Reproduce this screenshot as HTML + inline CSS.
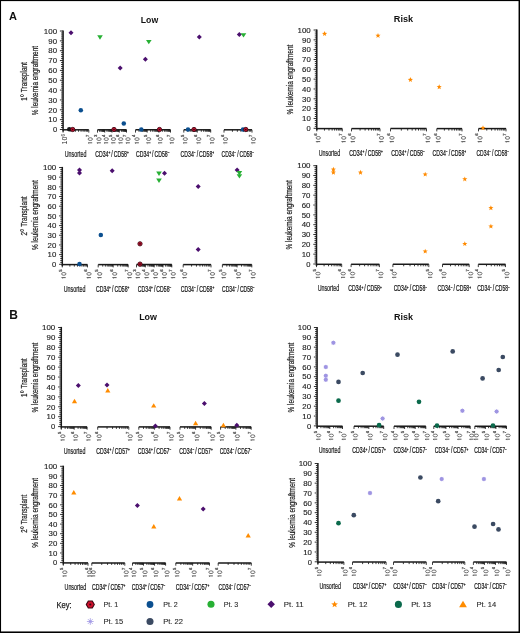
<!DOCTYPE html>
<html><head><meta charset="utf-8"><style>
html,body{margin:0;padding:0;background:#fff;}
body{width:520px;height:633px;overflow:hidden;font-family:"Liberation Sans", sans-serif;}
svg{display:block;will-change:transform;}
</style></head><body>
<svg width="520" height="633" viewBox="0 0 520 633" font-family='"Liberation Sans", sans-serif'>
<rect x="0" y="0" width="520" height="633" fill="#fff"/>
<text x="8.9" y="20.1" font-size="11" text-anchor="start" font-weight="bold" fill="#111">A</text>
<text x="9.2" y="318.8" font-size="12" text-anchor="start" font-weight="bold" fill="#111">B</text>
<text x="149.5" y="22.8" font-size="9.3" text-anchor="middle" font-weight="bold" fill="#111" textLength="17.4" lengthAdjust="spacingAndGlyphs">Low</text>
<text x="403.5" y="22.1" font-size="9.3" text-anchor="middle" font-weight="bold" fill="#111" textLength="19.3" lengthAdjust="spacingAndGlyphs">Risk</text>
<text x="148.1" y="320.4" font-size="9.3" text-anchor="middle" font-weight="bold" fill="#111" textLength="17.8" lengthAdjust="spacingAndGlyphs">Low</text>
<text x="403.6" y="320.3" font-size="9.3" text-anchor="middle" font-weight="bold" fill="#111" textLength="19.1" lengthAdjust="spacingAndGlyphs">Risk</text>
<text x="27" y="81.45" font-size="8.7" text-anchor="middle" font-weight="normal" fill="#1e1e1e" textLength="38.6" lengthAdjust="spacingAndGlyphs" transform="rotate(-90 27 81.45)" stroke="#1e1e1e" stroke-width="0.22">1<tspan font-size="11.5" dy="0.9">°</tspan><tspan dy="-0.9"> Transplant</tspan></text>
<text x="38.2" y="80.55" font-size="8.7" text-anchor="middle" font-weight="normal" fill="#1e1e1e" textLength="69.2" lengthAdjust="spacingAndGlyphs" transform="rotate(-90 38.2 80.55)" stroke="#1e1e1e" stroke-width="0.22">% leukemia engraftment</text>
<text x="293" y="79.6" font-size="8.7" text-anchor="middle" font-weight="normal" fill="#1e1e1e" textLength="70" lengthAdjust="spacingAndGlyphs" transform="rotate(-90 293 79.6)" stroke="#1e1e1e" stroke-width="0.22">% leukemia engraftment</text>
<text x="27" y="216" font-size="8.7" text-anchor="middle" font-weight="normal" fill="#1e1e1e" textLength="39.2" lengthAdjust="spacingAndGlyphs" transform="rotate(-90 27 216)" stroke="#1e1e1e" stroke-width="0.22">2<tspan font-size="11.5" dy="0.9">°</tspan><tspan dy="-0.9"> Transplant</tspan></text>
<text x="38.2" y="215.15" font-size="8.7" text-anchor="middle" font-weight="normal" fill="#1e1e1e" textLength="69.8" lengthAdjust="spacingAndGlyphs" transform="rotate(-90 38.2 215.15)" stroke="#1e1e1e" stroke-width="0.22">% leukemia engraftment</text>
<text x="292.2" y="214.9" font-size="8.7" text-anchor="middle" font-weight="normal" fill="#1e1e1e" textLength="69.2" lengthAdjust="spacingAndGlyphs" transform="rotate(-90 292.2 214.9)" stroke="#1e1e1e" stroke-width="0.22">% leukemia engraftment</text>
<text x="27" y="377.75" font-size="8.7" text-anchor="middle" font-weight="normal" fill="#1e1e1e" textLength="38.6" lengthAdjust="spacingAndGlyphs" transform="rotate(-90 27 377.75)" stroke="#1e1e1e" stroke-width="0.22">1<tspan font-size="11.5" dy="0.9">°</tspan><tspan dy="-0.9"> Transplant</tspan></text>
<text x="38.2" y="377.55" font-size="8.7" text-anchor="middle" font-weight="normal" fill="#1e1e1e" textLength="69.8" lengthAdjust="spacingAndGlyphs" transform="rotate(-90 38.2 377.55)" stroke="#1e1e1e" stroke-width="0.22">% leukemia engraftment</text>
<text x="293.6" y="377.55" font-size="8.7" text-anchor="middle" font-weight="normal" fill="#1e1e1e" textLength="69.8" lengthAdjust="spacingAndGlyphs" transform="rotate(-90 293.6 377.55)" stroke="#1e1e1e" stroke-width="0.22">% leukemia engraftment</text>
<text x="27" y="513.85" font-size="8.7" text-anchor="middle" font-weight="normal" fill="#1e1e1e" textLength="38" lengthAdjust="spacingAndGlyphs" transform="rotate(-90 27 513.85)" stroke="#1e1e1e" stroke-width="0.22">2<tspan font-size="11.5" dy="0.9">°</tspan><tspan dy="-0.9"> Transplant</tspan></text>
<text x="38.2" y="512.95" font-size="8.7" text-anchor="middle" font-weight="normal" fill="#1e1e1e" textLength="69.8" lengthAdjust="spacingAndGlyphs" transform="rotate(-90 38.2 512.95)" stroke="#1e1e1e" stroke-width="0.22">% leukemia engraftment</text>
<text x="294.6" y="512.95" font-size="8.7" text-anchor="middle" font-weight="normal" fill="#1e1e1e" textLength="69.8" lengthAdjust="spacingAndGlyphs" transform="rotate(-90 294.6 512.95)" stroke="#1e1e1e" stroke-width="0.22">% leukemia engraftment</text>
<line x1="63.1" y1="30.4" x2="63.1" y2="131.5" stroke="#1a1a1a" stroke-width="1.5"/>
<path d="M59.9 129.5H63.1M61.1 127.53H63.1M61.1 125.56H63.1M61.1 123.59H63.1M61.1 121.62H63.1M59.9 119.65H63.1M61.1 117.68H63.1M61.1 115.71H63.1M61.1 113.74H63.1M61.1 111.77H63.1M59.9 109.8H63.1M61.1 107.83H63.1M61.1 105.86H63.1M61.1 103.89H63.1M61.1 101.92H63.1M59.9 99.95H63.1M61.1 97.98H63.1M61.1 96.01H63.1M61.1 94.04H63.1M61.1 92.07H63.1M59.9 90.1H63.1M61.1 88.13H63.1M61.1 86.16H63.1M61.1 84.19H63.1M61.1 82.22H63.1M59.9 80.25H63.1M61.1 78.28H63.1M61.1 76.31H63.1M61.1 74.34H63.1M61.1 72.37H63.1M59.9 70.4H63.1M61.1 68.43H63.1M61.1 66.46H63.1M61.1 64.49H63.1M61.1 62.52H63.1M59.9 60.55H63.1M61.1 58.58H63.1M61.1 56.61H63.1M61.1 54.64H63.1M61.1 52.67H63.1M59.9 50.7H63.1M61.1 48.73H63.1M61.1 46.76H63.1M61.1 44.79H63.1M61.1 42.82H63.1M59.9 40.85H63.1M61.1 38.88H63.1M61.1 36.91H63.1M61.1 34.94H63.1M61.1 32.97H63.1M59.9 31H63.1" stroke="#1a1a1a" stroke-width="0.9" fill="none"/>
<text x="57.1" y="132.25" font-size="7.8" text-anchor="end" font-weight="normal" fill="#1e1e1e" textLength="4.21" lengthAdjust="spacingAndGlyphs" stroke="#1e1e1e" stroke-width="0.14">0</text>
<text x="57.1" y="122.4" font-size="7.8" text-anchor="end" font-weight="normal" fill="#1e1e1e" textLength="8.73" lengthAdjust="spacingAndGlyphs" stroke="#1e1e1e" stroke-width="0.14">10</text>
<text x="57.1" y="112.55" font-size="7.8" text-anchor="end" font-weight="normal" fill="#1e1e1e" textLength="8.73" lengthAdjust="spacingAndGlyphs" stroke="#1e1e1e" stroke-width="0.14">20</text>
<text x="57.1" y="102.7" font-size="7.8" text-anchor="end" font-weight="normal" fill="#1e1e1e" textLength="8.73" lengthAdjust="spacingAndGlyphs" stroke="#1e1e1e" stroke-width="0.14">30</text>
<text x="57.1" y="92.85" font-size="7.8" text-anchor="end" font-weight="normal" fill="#1e1e1e" textLength="8.73" lengthAdjust="spacingAndGlyphs" stroke="#1e1e1e" stroke-width="0.14">40</text>
<text x="57.1" y="83" font-size="7.8" text-anchor="end" font-weight="normal" fill="#1e1e1e" textLength="8.73" lengthAdjust="spacingAndGlyphs" stroke="#1e1e1e" stroke-width="0.14">50</text>
<text x="57.1" y="73.15" font-size="7.8" text-anchor="end" font-weight="normal" fill="#1e1e1e" textLength="8.73" lengthAdjust="spacingAndGlyphs" stroke="#1e1e1e" stroke-width="0.14">60</text>
<text x="57.1" y="63.3" font-size="7.8" text-anchor="end" font-weight="normal" fill="#1e1e1e" textLength="8.73" lengthAdjust="spacingAndGlyphs" stroke="#1e1e1e" stroke-width="0.14">70</text>
<text x="57.1" y="53.45" font-size="7.8" text-anchor="end" font-weight="normal" fill="#1e1e1e" textLength="8.73" lengthAdjust="spacingAndGlyphs" stroke="#1e1e1e" stroke-width="0.14">80</text>
<text x="57.1" y="43.6" font-size="7.8" text-anchor="end" font-weight="normal" fill="#1e1e1e" textLength="8.73" lengthAdjust="spacingAndGlyphs" stroke="#1e1e1e" stroke-width="0.14">90</text>
<text x="57.1" y="33.75" font-size="7.8" text-anchor="end" font-weight="normal" fill="#1e1e1e" textLength="13.24" lengthAdjust="spacingAndGlyphs" stroke="#1e1e1e" stroke-width="0.14">100</text>
<line x1="63.1" y1="129.8" x2="88.8" y2="129.8" stroke="#1a1a1a" stroke-width="1.5"/>
<path d="M63.1 129.8V132.6M88.8 129.8V132.6M70.84 129.8V131.8M75.36 129.8V131.8M78.57 129.8V131.8M81.06 129.8V131.8M83.1 129.8V131.8M84.82 129.8V131.8M86.31 129.8V131.8M87.62 129.8V131.8" stroke="#1a1a1a" stroke-width="0.85" fill="none"/>
<text x="67.3" y="144.4" font-size="7.2" fill="#262626" transform="rotate(-90 67.3 144.4)" textLength="10.2" lengthAdjust="spacingAndGlyphs">10<tspan font-size="4.46" dy="-2.59">6</tspan></text>
<ellipse cx="90.3" cy="139.1" rx="2.2" ry="1.38" fill="none" stroke="#474747" stroke-width="0.75"/><path d="M88.2 142.8H92.2" stroke="#474747" stroke-width="0.9"/><path d="M88.2 142.8l0.9 0.9" stroke="#474747" stroke-width="0.7"/><text x="88.6" y="136.9" font-size="4.2" fill="#474747" stroke="#474747" stroke-width="0.25" transform="rotate(-90 88.6 136.9)">7</text>
<line x1="97.5" y1="129.8" x2="126.5" y2="129.8" stroke="#1a1a1a" stroke-width="1.5"/>
<path d="M97.5 129.8V132.6M104.75 129.8V132.6M112 129.8V132.6M119.25 129.8V132.6M126.5 129.8V132.6M99.68 129.8V131.8M100.96 129.8V131.8M101.86 129.8V131.8M102.57 129.8V131.8M103.14 129.8V131.8M103.63 129.8V131.8M104.05 129.8V131.8M104.42 129.8V131.8M106.93 129.8V131.8M108.21 129.8V131.8M109.11 129.8V131.8M109.82 129.8V131.8M110.39 129.8V131.8M110.88 129.8V131.8M111.3 129.8V131.8M111.67 129.8V131.8M114.18 129.8V131.8M115.46 129.8V131.8M116.36 129.8V131.8M117.07 129.8V131.8M117.64 129.8V131.8M118.13 129.8V131.8M118.55 129.8V131.8M118.92 129.8V131.8M121.43 129.8V131.8M122.71 129.8V131.8M123.61 129.8V131.8M124.32 129.8V131.8M124.89 129.8V131.8M125.38 129.8V131.8M125.8 129.8V131.8M126.17 129.8V131.8" stroke="#1a1a1a" stroke-width="0.85" fill="none"/>
<ellipse cx="99" cy="139.1" rx="2.2" ry="1.38" fill="none" stroke="#474747" stroke-width="0.75"/><path d="M96.9 142.8H100.9" stroke="#474747" stroke-width="0.9"/><path d="M96.9 142.8l0.9 0.9" stroke="#474747" stroke-width="0.7"/><text x="97.3" y="136.9" font-size="4.2" fill="#474747" stroke="#474747" stroke-width="0.25" transform="rotate(-90 97.3 136.9)">3</text>
<ellipse cx="106.25" cy="139.1" rx="2.2" ry="1.38" fill="none" stroke="#474747" stroke-width="0.75"/><path d="M104.15 142.8H108.15" stroke="#474747" stroke-width="0.9"/><path d="M104.15 142.8l0.9 0.9" stroke="#474747" stroke-width="0.7"/><text x="104.55" y="136.9" font-size="4.2" fill="#474747" stroke="#474747" stroke-width="0.25" transform="rotate(-90 104.55 136.9)">4</text>
<ellipse cx="113.5" cy="139.1" rx="2.2" ry="1.38" fill="none" stroke="#474747" stroke-width="0.75"/><path d="M111.4 142.8H115.4" stroke="#474747" stroke-width="0.9"/><path d="M111.4 142.8l0.9 0.9" stroke="#474747" stroke-width="0.7"/><text x="111.8" y="136.9" font-size="4.2" fill="#474747" stroke="#474747" stroke-width="0.25" transform="rotate(-90 111.8 136.9)">5</text>
<ellipse cx="120.75" cy="139.1" rx="2.2" ry="1.38" fill="none" stroke="#474747" stroke-width="0.75"/><path d="M118.65 142.8H122.65" stroke="#474747" stroke-width="0.9"/><path d="M118.65 142.8l0.9 0.9" stroke="#474747" stroke-width="0.7"/><text x="119.05" y="136.9" font-size="4.2" fill="#474747" stroke="#474747" stroke-width="0.25" transform="rotate(-90 119.05 136.9)">6</text>
<ellipse cx="128" cy="139.1" rx="2.2" ry="1.38" fill="none" stroke="#474747" stroke-width="0.75"/><path d="M125.9 142.8H129.9" stroke="#474747" stroke-width="0.9"/><path d="M125.9 142.8l0.9 0.9" stroke="#474747" stroke-width="0.7"/><text x="126.3" y="136.9" font-size="4.2" fill="#474747" stroke="#474747" stroke-width="0.25" transform="rotate(-90 126.3 136.9)">7</text>
<line x1="135.5" y1="129.8" x2="170.5" y2="129.8" stroke="#1a1a1a" stroke-width="1.5"/>
<path d="M135.5 129.8V132.6M147.17 129.8V132.6M158.83 129.8V132.6M170.5 129.8V132.6M139.01 129.8V131.8M141.07 129.8V131.8M142.52 129.8V131.8M143.65 129.8V131.8M144.58 129.8V131.8M145.36 129.8V131.8M146.04 129.8V131.8M146.63 129.8V131.8M150.68 129.8V131.8M152.73 129.8V131.8M154.19 129.8V131.8M155.32 129.8V131.8M156.25 129.8V131.8M157.03 129.8V131.8M157.7 129.8V131.8M158.3 129.8V131.8M162.35 129.8V131.8M164.4 129.8V131.8M165.86 129.8V131.8M166.99 129.8V131.8M167.91 129.8V131.8M168.69 129.8V131.8M169.37 129.8V131.8M169.97 129.8V131.8" stroke="#1a1a1a" stroke-width="0.85" fill="none"/>
<ellipse cx="137" cy="139.1" rx="2.2" ry="1.38" fill="none" stroke="#474747" stroke-width="0.75"/><path d="M134.9 142.8H138.9" stroke="#474747" stroke-width="0.9"/><path d="M134.9 142.8l0.9 0.9" stroke="#474747" stroke-width="0.7"/><text x="135.3" y="136.9" font-size="4.2" fill="#474747" stroke="#474747" stroke-width="0.25" transform="rotate(-90 135.3 136.9)">4</text>
<ellipse cx="148.67" cy="139.1" rx="2.2" ry="1.38" fill="none" stroke="#474747" stroke-width="0.75"/><path d="M146.57 142.8H150.57" stroke="#474747" stroke-width="0.9"/><path d="M146.57 142.8l0.9 0.9" stroke="#474747" stroke-width="0.7"/><text x="146.97" y="136.9" font-size="4.2" fill="#474747" stroke="#474747" stroke-width="0.25" transform="rotate(-90 146.97 136.9)">5</text>
<ellipse cx="160.33" cy="139.1" rx="2.2" ry="1.38" fill="none" stroke="#474747" stroke-width="0.75"/><path d="M158.23 142.8H162.23" stroke="#474747" stroke-width="0.9"/><path d="M158.23 142.8l0.9 0.9" stroke="#474747" stroke-width="0.7"/><text x="158.63" y="136.9" font-size="4.2" fill="#474747" stroke="#474747" stroke-width="0.25" transform="rotate(-90 158.63 136.9)">6</text>
<ellipse cx="172" cy="139.1" rx="2.2" ry="1.38" fill="none" stroke="#474747" stroke-width="0.75"/><path d="M169.9 142.8H173.9" stroke="#474747" stroke-width="0.9"/><path d="M169.9 142.8l0.9 0.9" stroke="#474747" stroke-width="0.7"/><text x="170.3" y="136.9" font-size="4.2" fill="#474747" stroke="#474747" stroke-width="0.25" transform="rotate(-90 170.3 136.9)">7</text>
<line x1="183.8" y1="129.8" x2="210.7" y2="129.8" stroke="#1a1a1a" stroke-width="1.5"/>
<path d="M183.8 129.8V132.6M197.25 129.8V132.6M210.7 129.8V132.6M187.85 129.8V131.8M190.22 129.8V131.8M191.9 129.8V131.8M193.2 129.8V131.8M194.27 129.8V131.8M195.17 129.8V131.8M195.95 129.8V131.8M196.63 129.8V131.8M201.3 129.8V131.8M203.67 129.8V131.8M205.35 129.8V131.8M206.65 129.8V131.8M207.72 129.8V131.8M208.62 129.8V131.8M209.4 129.8V131.8M210.08 129.8V131.8" stroke="#1a1a1a" stroke-width="0.85" fill="none"/>
<ellipse cx="185.3" cy="139.1" rx="2.2" ry="1.38" fill="none" stroke="#474747" stroke-width="0.75"/><path d="M183.2 142.8H187.2" stroke="#474747" stroke-width="0.9"/><path d="M183.2 142.8l0.9 0.9" stroke="#474747" stroke-width="0.7"/><text x="183.6" y="136.9" font-size="4.2" fill="#474747" stroke="#474747" stroke-width="0.25" transform="rotate(-90 183.6 136.9)">5</text>
<ellipse cx="198.75" cy="139.1" rx="2.2" ry="1.38" fill="none" stroke="#474747" stroke-width="0.75"/><path d="M196.65 142.8H200.65" stroke="#474747" stroke-width="0.9"/><path d="M196.65 142.8l0.9 0.9" stroke="#474747" stroke-width="0.7"/><text x="197.05" y="136.9" font-size="4.2" fill="#474747" stroke="#474747" stroke-width="0.25" transform="rotate(-90 197.05 136.9)">6</text>
<ellipse cx="212.2" cy="139.1" rx="2.2" ry="1.38" fill="none" stroke="#474747" stroke-width="0.75"/><path d="M210.1 142.8H214.1" stroke="#474747" stroke-width="0.9"/><path d="M210.1 142.8l0.9 0.9" stroke="#474747" stroke-width="0.7"/><text x="210.5" y="136.9" font-size="4.2" fill="#474747" stroke="#474747" stroke-width="0.25" transform="rotate(-90 210.5 136.9)">7</text>
<line x1="224" y1="129.8" x2="252" y2="129.8" stroke="#1a1a1a" stroke-width="1.5"/>
<path d="M224 129.8V132.6M252 129.8V132.6M232.43 129.8V131.8M237.36 129.8V131.8M240.86 129.8V131.8M243.57 129.8V131.8M245.79 129.8V131.8M247.66 129.8V131.8M249.29 129.8V131.8M250.72 129.8V131.8" stroke="#1a1a1a" stroke-width="0.85" fill="none"/>
<ellipse cx="225.5" cy="139.1" rx="2.2" ry="1.38" fill="none" stroke="#474747" stroke-width="0.75"/><path d="M223.4 142.8H227.4" stroke="#474747" stroke-width="0.9"/><path d="M223.4 142.8l0.9 0.9" stroke="#474747" stroke-width="0.7"/><text x="223.8" y="136.9" font-size="4.2" fill="#474747" stroke="#474747" stroke-width="0.25" transform="rotate(-90 223.8 136.9)">6</text>
<ellipse cx="253.5" cy="139.1" rx="2.2" ry="1.38" fill="none" stroke="#474747" stroke-width="0.75"/><path d="M251.4 142.8H255.4" stroke="#474747" stroke-width="0.9"/><path d="M251.4 142.8l0.9 0.9" stroke="#474747" stroke-width="0.7"/><text x="251.8" y="136.9" font-size="4.2" fill="#474747" stroke="#474747" stroke-width="0.25" transform="rotate(-90 251.8 136.9)">7</text>
<text x="75.55" y="156.55" font-size="8.2" text-anchor="middle" font-weight="normal" fill="#1a1a1a" textLength="21.6" lengthAdjust="spacingAndGlyphs" stroke="#1a1a1a" stroke-width="0.2">Unsorted</text>
<text x="112" y="156.55" font-size="8.2" text-anchor="middle" font-weight="normal" fill="#1a1a1a" textLength="33.5" lengthAdjust="spacingAndGlyphs" stroke="#1a1a1a" stroke-width="0.24">CD34<tspan font-size="5.0" dy="-2.9">+</tspan><tspan dy="2.9"> / CD58</tspan><tspan font-size="5.0" dy="-2.9">+</tspan></text>
<text x="152.75" y="156.55" font-size="8.2" text-anchor="middle" font-weight="normal" fill="#1a1a1a" textLength="33.5" lengthAdjust="spacingAndGlyphs" stroke="#1a1a1a" stroke-width="0.24">CD34<tspan font-size="5.0" dy="-2.9">+</tspan><tspan dy="2.9"> / CD58</tspan><tspan font-size="5.0" dy="-2.9">−</tspan></text>
<text x="197.35" y="156.55" font-size="8.2" text-anchor="middle" font-weight="normal" fill="#1a1a1a" textLength="33.5" lengthAdjust="spacingAndGlyphs" stroke="#1a1a1a" stroke-width="0.24">CD34<tspan font-size="5.0" dy="-2.9">−</tspan><tspan dy="2.9"> / CD58</tspan><tspan font-size="5.0" dy="-2.9">+</tspan></text>
<text x="237.85" y="156.55" font-size="8.2" text-anchor="middle" font-weight="normal" fill="#1a1a1a" textLength="32.5" lengthAdjust="spacingAndGlyphs" stroke="#1a1a1a" stroke-width="0.24">CD34<tspan font-size="5.0" dy="-2.9">−</tspan><tspan dy="2.9"> / CD58</tspan><tspan font-size="5.0" dy="-2.9">−</tspan></text>
<circle cx="69.3" cy="129.3" r="2.3" fill="#151515"/>
<path d="M71 30.2L73.5 32.7L71 35.2L68.5 32.7Z" fill="#4b0f6e"/>
<path d="M120.2 65.4L122.7 67.9L120.2 70.4L117.7 67.9Z" fill="#4b0f6e"/>
<path d="M145.4 56.7L147.9 59.2L145.4 61.7L142.9 59.2Z" fill="#4b0f6e"/>
<path d="M199.3 34.5L201.8 37L199.3 39.5L196.8 37Z" fill="#4b0f6e"/>
<path d="M239.3 32L241.8 34.5L239.3 37L236.8 34.5Z" fill="#4b0f6e"/>
<path d="M97.2 35.32L102.8 35.32L100 39.72Z" fill="#27b034"/>
<path d="M146 39.92L151.6 39.92L148.8 44.32Z" fill="#27b034"/>
<path d="M240.7 33.22L246.3 33.22L243.5 37.62Z" fill="#27b034"/>
<circle cx="80.8" cy="110.2" r="2.25" fill="#0b4f8f"/>
<circle cx="123.8" cy="123.5" r="2.25" fill="#0b4f8f"/>
<circle cx="141.3" cy="129.5" r="2.25" fill="#0b4f8f"/>
<circle cx="188" cy="129.5" r="2.25" fill="#0b4f8f"/>
<circle cx="243" cy="129.5" r="2.25" fill="#0b4f8f"/>
<circle cx="72.7" cy="129.5" r="2.15" fill="#c8102e" stroke="#3a0612" stroke-width="0.85"/><circle cx="72.7" cy="129.5" r="0.85" fill="#3a0612"/>
<circle cx="114" cy="129.5" r="2.15" fill="#c8102e" stroke="#3a0612" stroke-width="0.85"/><circle cx="114" cy="129.5" r="0.85" fill="#3a0612"/>
<circle cx="159.5" cy="129.5" r="2.15" fill="#c8102e" stroke="#3a0612" stroke-width="0.85"/><circle cx="159.5" cy="129.5" r="0.85" fill="#3a0612"/>
<circle cx="194" cy="129.5" r="2.15" fill="#c8102e" stroke="#3a0612" stroke-width="0.85"/><circle cx="194" cy="129.5" r="0.85" fill="#3a0612"/>
<circle cx="245.8" cy="129.5" r="2.15" fill="#c8102e" stroke="#3a0612" stroke-width="0.85"/><circle cx="245.8" cy="129.5" r="0.85" fill="#3a0612"/>
<line x1="316.8" y1="29.4" x2="316.8" y2="130.3" stroke="#1a1a1a" stroke-width="1.5"/>
<path d="M313.6 128.3H316.8M314.8 126.33H316.8M314.8 124.37H316.8M314.8 122.4H316.8M314.8 120.44H316.8M313.6 118.47H316.8M314.8 116.5H316.8M314.8 114.54H316.8M314.8 112.57H316.8M314.8 110.61H316.8M313.6 108.64H316.8M314.8 106.67H316.8M314.8 104.71H316.8M314.8 102.74H316.8M314.8 100.78H316.8M313.6 98.81H316.8M314.8 96.84H316.8M314.8 94.88H316.8M314.8 92.91H316.8M314.8 90.95H316.8M313.6 88.98H316.8M314.8 87.01H316.8M314.8 85.05H316.8M314.8 83.08H316.8M314.8 81.12H316.8M313.6 79.15H316.8M314.8 77.18H316.8M314.8 75.22H316.8M314.8 73.25H316.8M314.8 71.29H316.8M313.6 69.32H316.8M314.8 67.35H316.8M314.8 65.39H316.8M314.8 63.42H316.8M314.8 61.46H316.8M313.6 59.49H316.8M314.8 57.52H316.8M314.8 55.56H316.8M314.8 53.59H316.8M314.8 51.63H316.8M313.6 49.66H316.8M314.8 47.69H316.8M314.8 45.73H316.8M314.8 43.76H316.8M314.8 41.8H316.8M313.6 39.83H316.8M314.8 37.86H316.8M314.8 35.9H316.8M314.8 33.93H316.8M314.8 31.97H316.8M313.6 30H316.8" stroke="#1a1a1a" stroke-width="0.9" fill="none"/>
<text x="310.8" y="131.05" font-size="7.8" text-anchor="end" font-weight="normal" fill="#1e1e1e" textLength="4.21" lengthAdjust="spacingAndGlyphs" stroke="#1e1e1e" stroke-width="0.14">0</text>
<text x="310.8" y="121.22" font-size="7.8" text-anchor="end" font-weight="normal" fill="#1e1e1e" textLength="8.73" lengthAdjust="spacingAndGlyphs" stroke="#1e1e1e" stroke-width="0.14">10</text>
<text x="310.8" y="111.39" font-size="7.8" text-anchor="end" font-weight="normal" fill="#1e1e1e" textLength="8.73" lengthAdjust="spacingAndGlyphs" stroke="#1e1e1e" stroke-width="0.14">20</text>
<text x="310.8" y="101.56" font-size="7.8" text-anchor="end" font-weight="normal" fill="#1e1e1e" textLength="8.73" lengthAdjust="spacingAndGlyphs" stroke="#1e1e1e" stroke-width="0.14">30</text>
<text x="310.8" y="91.73" font-size="7.8" text-anchor="end" font-weight="normal" fill="#1e1e1e" textLength="8.73" lengthAdjust="spacingAndGlyphs" stroke="#1e1e1e" stroke-width="0.14">40</text>
<text x="310.8" y="81.9" font-size="7.8" text-anchor="end" font-weight="normal" fill="#1e1e1e" textLength="8.73" lengthAdjust="spacingAndGlyphs" stroke="#1e1e1e" stroke-width="0.14">50</text>
<text x="310.8" y="72.07" font-size="7.8" text-anchor="end" font-weight="normal" fill="#1e1e1e" textLength="8.73" lengthAdjust="spacingAndGlyphs" stroke="#1e1e1e" stroke-width="0.14">60</text>
<text x="310.8" y="62.24" font-size="7.8" text-anchor="end" font-weight="normal" fill="#1e1e1e" textLength="8.73" lengthAdjust="spacingAndGlyphs" stroke="#1e1e1e" stroke-width="0.14">70</text>
<text x="310.8" y="52.41" font-size="7.8" text-anchor="end" font-weight="normal" fill="#1e1e1e" textLength="8.73" lengthAdjust="spacingAndGlyphs" stroke="#1e1e1e" stroke-width="0.14">80</text>
<text x="310.8" y="42.58" font-size="7.8" text-anchor="end" font-weight="normal" fill="#1e1e1e" textLength="8.73" lengthAdjust="spacingAndGlyphs" stroke="#1e1e1e" stroke-width="0.14">90</text>
<text x="310.8" y="32.75" font-size="7.8" text-anchor="end" font-weight="normal" fill="#1e1e1e" textLength="13.24" lengthAdjust="spacingAndGlyphs" stroke="#1e1e1e" stroke-width="0.14">100</text>
<line x1="316.8" y1="128.6" x2="342.3" y2="128.6" stroke="#1a1a1a" stroke-width="1.5"/>
<path d="M316.8 128.6V131.4M342.3 128.6V131.4M324.48 128.6V130.6M328.97 128.6V130.6M332.15 128.6V130.6M334.62 128.6V130.6M336.64 128.6V130.6M338.35 128.6V130.6M339.83 128.6V130.6M341.13 128.6V130.6" stroke="#1a1a1a" stroke-width="0.85" fill="none"/>
<ellipse cx="318.3" cy="137.9" rx="2.2" ry="1.38" fill="none" stroke="#474747" stroke-width="0.75"/><path d="M316.2 141.6H320.2" stroke="#474747" stroke-width="0.9"/><path d="M316.2 141.6l0.9 0.9" stroke="#474747" stroke-width="0.7"/><text x="316.6" y="135.7" font-size="4.2" fill="#474747" stroke="#474747" stroke-width="0.25" transform="rotate(-90 316.6 135.7)">6</text>
<ellipse cx="343.8" cy="137.9" rx="2.2" ry="1.38" fill="none" stroke="#474747" stroke-width="0.75"/><path d="M341.7 141.6H345.7" stroke="#474747" stroke-width="0.9"/><path d="M341.7 141.6l0.9 0.9" stroke="#474747" stroke-width="0.7"/><text x="342.1" y="135.7" font-size="4.2" fill="#474747" stroke="#474747" stroke-width="0.25" transform="rotate(-90 342.1 135.7)">7</text>
<line x1="351.5" y1="128.6" x2="380" y2="128.6" stroke="#1a1a1a" stroke-width="1.5"/>
<path d="M351.5 128.6V131.4M380 128.6V131.4M360.08 128.6V130.6M365.1 128.6V130.6M368.66 128.6V130.6M371.42 128.6V130.6M373.68 128.6V130.6M375.59 128.6V130.6M377.24 128.6V130.6M378.7 128.6V130.6" stroke="#1a1a1a" stroke-width="0.85" fill="none"/>
<ellipse cx="353" cy="137.9" rx="2.2" ry="1.38" fill="none" stroke="#474747" stroke-width="0.75"/><path d="M350.9 141.6H354.9" stroke="#474747" stroke-width="0.9"/><path d="M350.9 141.6l0.9 0.9" stroke="#474747" stroke-width="0.7"/><text x="351.3" y="135.7" font-size="4.2" fill="#474747" stroke="#474747" stroke-width="0.25" transform="rotate(-90 351.3 135.7)">6</text>
<ellipse cx="381.5" cy="137.9" rx="2.2" ry="1.38" fill="none" stroke="#474747" stroke-width="0.75"/><path d="M379.4 141.6H383.4" stroke="#474747" stroke-width="0.9"/><path d="M379.4 141.6l0.9 0.9" stroke="#474747" stroke-width="0.7"/><text x="379.8" y="135.7" font-size="4.2" fill="#474747" stroke="#474747" stroke-width="0.25" transform="rotate(-90 379.8 135.7)">7</text>
<line x1="390.5" y1="128.6" x2="426.5" y2="128.6" stroke="#1a1a1a" stroke-width="1.5"/>
<path d="M390.5 128.6V131.4M426.5 128.6V131.4M401.34 128.6V130.6M407.68 128.6V130.6M412.17 128.6V130.6M415.66 128.6V130.6M418.51 128.6V130.6M420.92 128.6V130.6M423.01 128.6V130.6M424.85 128.6V130.6" stroke="#1a1a1a" stroke-width="0.85" fill="none"/>
<ellipse cx="392" cy="137.9" rx="2.2" ry="1.38" fill="none" stroke="#474747" stroke-width="0.75"/><path d="M389.9 141.6H393.9" stroke="#474747" stroke-width="0.9"/><path d="M389.9 141.6l0.9 0.9" stroke="#474747" stroke-width="0.7"/><text x="390.3" y="135.7" font-size="4.2" fill="#474747" stroke="#474747" stroke-width="0.25" transform="rotate(-90 390.3 135.7)">6</text>
<ellipse cx="428" cy="137.9" rx="2.2" ry="1.38" fill="none" stroke="#474747" stroke-width="0.75"/><path d="M425.9 141.6H429.9" stroke="#474747" stroke-width="0.9"/><path d="M425.9 141.6l0.9 0.9" stroke="#474747" stroke-width="0.7"/><text x="426.3" y="135.7" font-size="4.2" fill="#474747" stroke="#474747" stroke-width="0.25" transform="rotate(-90 426.3 135.7)">7</text>
<line x1="436.8" y1="128.6" x2="462" y2="128.6" stroke="#1a1a1a" stroke-width="1.5"/>
<path d="M436.8 128.6V131.4M462 128.6V131.4M444.39 128.6V130.6M448.82 128.6V130.6M451.97 128.6V130.6M454.41 128.6V130.6M456.41 128.6V130.6M458.1 128.6V130.6M459.56 128.6V130.6M460.85 128.6V130.6" stroke="#1a1a1a" stroke-width="0.85" fill="none"/>
<ellipse cx="438.3" cy="137.9" rx="2.2" ry="1.38" fill="none" stroke="#474747" stroke-width="0.75"/><path d="M436.2 141.6H440.2" stroke="#474747" stroke-width="0.9"/><path d="M436.2 141.6l0.9 0.9" stroke="#474747" stroke-width="0.7"/><text x="436.6" y="135.7" font-size="4.2" fill="#474747" stroke="#474747" stroke-width="0.25" transform="rotate(-90 436.6 135.7)">6</text>
<ellipse cx="463.5" cy="137.9" rx="2.2" ry="1.38" fill="none" stroke="#474747" stroke-width="0.75"/><path d="M461.4 141.6H465.4" stroke="#474747" stroke-width="0.9"/><path d="M461.4 141.6l0.9 0.9" stroke="#474747" stroke-width="0.7"/><text x="461.8" y="135.7" font-size="4.2" fill="#474747" stroke="#474747" stroke-width="0.25" transform="rotate(-90 461.8 135.7)">7</text>
<line x1="478.5" y1="128.6" x2="506" y2="128.6" stroke="#1a1a1a" stroke-width="1.5"/>
<path d="M478.5 128.6V131.4M506 128.6V131.4M486.78 128.6V130.6M491.62 128.6V130.6M495.06 128.6V130.6M497.72 128.6V130.6M499.9 128.6V130.6M501.74 128.6V130.6M503.33 128.6V130.6M504.74 128.6V130.6" stroke="#1a1a1a" stroke-width="0.85" fill="none"/>
<ellipse cx="480" cy="137.9" rx="2.2" ry="1.38" fill="none" stroke="#474747" stroke-width="0.75"/><path d="M477.9 141.6H481.9" stroke="#474747" stroke-width="0.9"/><path d="M477.9 141.6l0.9 0.9" stroke="#474747" stroke-width="0.7"/><text x="478.3" y="135.7" font-size="4.2" fill="#474747" stroke="#474747" stroke-width="0.25" transform="rotate(-90 478.3 135.7)">6</text>
<ellipse cx="507.5" cy="137.9" rx="2.2" ry="1.38" fill="none" stroke="#474747" stroke-width="0.75"/><path d="M505.4 141.6H509.4" stroke="#474747" stroke-width="0.9"/><path d="M505.4 141.6l0.9 0.9" stroke="#474747" stroke-width="0.7"/><text x="505.8" y="135.7" font-size="4.2" fill="#474747" stroke="#474747" stroke-width="0.25" transform="rotate(-90 505.8 135.7)">7</text>
<text x="329.5" y="155.65" font-size="8.2" text-anchor="middle" font-weight="normal" fill="#1a1a1a" textLength="21.6" lengthAdjust="spacingAndGlyphs" stroke="#1a1a1a" stroke-width="0.2">Unsorted</text>
<text x="366" y="155.65" font-size="8.2" text-anchor="middle" font-weight="normal" fill="#1a1a1a" textLength="33.5" lengthAdjust="spacingAndGlyphs" stroke="#1a1a1a" stroke-width="0.24">CD34<tspan font-size="5.0" dy="-2.9">+</tspan><tspan dy="2.9"> / CD58</tspan><tspan font-size="5.0" dy="-2.9">+</tspan></text>
<text x="408" y="155.65" font-size="8.2" text-anchor="middle" font-weight="normal" fill="#1a1a1a" textLength="33.5" lengthAdjust="spacingAndGlyphs" stroke="#1a1a1a" stroke-width="0.24">CD34<tspan font-size="5.0" dy="-2.9">+</tspan><tspan dy="2.9"> / CD58</tspan><tspan font-size="5.0" dy="-2.9">−</tspan></text>
<text x="449.35" y="155.65" font-size="8.2" text-anchor="middle" font-weight="normal" fill="#1a1a1a" textLength="33.5" lengthAdjust="spacingAndGlyphs" stroke="#1a1a1a" stroke-width="0.24">CD34<tspan font-size="5.0" dy="-2.9">−</tspan><tspan dy="2.9"> / CD58</tspan><tspan font-size="5.0" dy="-2.9">+</tspan></text>
<text x="492.75" y="155.65" font-size="8.2" text-anchor="middle" font-weight="normal" fill="#1a1a1a" textLength="32.5" lengthAdjust="spacingAndGlyphs" stroke="#1a1a1a" stroke-width="0.24">CD34<tspan font-size="5.0" dy="-2.9">−</tspan><tspan dy="2.9"> / CD58</tspan><tspan font-size="5.0" dy="-2.9">−</tspan></text>
<path d="M324.6 31.1L325.28 32.87L327.17 32.97L325.69 34.16L326.19 35.98L324.6 34.95L323.01 35.98L323.51 34.16L322.03 32.97L323.92 32.87Z" fill="#ff8a00"/>
<path d="M378 33L378.68 34.77L380.57 34.87L379.09 36.06L379.59 37.88L378 36.85L376.41 37.88L376.91 36.06L375.43 34.87L377.32 34.77Z" fill="#ff8a00"/>
<path d="M410.4 77.1L411.08 78.87L412.97 78.97L411.49 80.16L411.99 81.98L410.4 80.95L408.81 81.98L409.31 80.16L407.83 78.97L409.72 78.87Z" fill="#ff8a00"/>
<path d="M439.2 84.3L439.88 86.07L441.77 86.17L440.29 87.36L440.79 89.18L439.2 88.15L437.61 89.18L438.11 87.36L436.63 86.17L438.52 86.07Z" fill="#ff8a00"/>
<path d="M483 125.3L483.68 127.07L485.57 127.17L484.09 128.36L484.59 130.18L483 129.15L481.41 130.18L481.91 128.36L480.43 127.17L482.32 127.07Z" fill="#ff8a00"/>
<line x1="62.3" y1="166.9" x2="62.3" y2="266.3" stroke="#1a1a1a" stroke-width="1.5"/>
<path d="M59.1 264.3H62.3M60.3 262.36H62.3M60.3 260.43H62.3M60.3 258.49H62.3M60.3 256.56H62.3M59.1 254.62H62.3M60.3 252.68H62.3M60.3 250.75H62.3M60.3 248.81H62.3M60.3 246.88H62.3M59.1 244.94H62.3M60.3 243H62.3M60.3 241.07H62.3M60.3 239.13H62.3M60.3 237.2H62.3M59.1 235.26H62.3M60.3 233.32H62.3M60.3 231.39H62.3M60.3 229.45H62.3M60.3 227.52H62.3M59.1 225.58H62.3M60.3 223.64H62.3M60.3 221.71H62.3M60.3 219.77H62.3M60.3 217.84H62.3M59.1 215.9H62.3M60.3 213.96H62.3M60.3 212.03H62.3M60.3 210.09H62.3M60.3 208.16H62.3M59.1 206.22H62.3M60.3 204.28H62.3M60.3 202.35H62.3M60.3 200.41H62.3M60.3 198.48H62.3M59.1 196.54H62.3M60.3 194.6H62.3M60.3 192.67H62.3M60.3 190.73H62.3M60.3 188.8H62.3M59.1 186.86H62.3M60.3 184.92H62.3M60.3 182.99H62.3M60.3 181.05H62.3M60.3 179.12H62.3M59.1 177.18H62.3M60.3 175.24H62.3M60.3 173.31H62.3M60.3 171.37H62.3M60.3 169.44H62.3M59.1 167.5H62.3" stroke="#1a1a1a" stroke-width="0.9" fill="none"/>
<text x="56.3" y="267.05" font-size="7.8" text-anchor="end" font-weight="normal" fill="#1e1e1e" textLength="4.21" lengthAdjust="spacingAndGlyphs" stroke="#1e1e1e" stroke-width="0.14">0</text>
<text x="56.3" y="257.37" font-size="7.8" text-anchor="end" font-weight="normal" fill="#1e1e1e" textLength="8.73" lengthAdjust="spacingAndGlyphs" stroke="#1e1e1e" stroke-width="0.14">10</text>
<text x="56.3" y="247.69" font-size="7.8" text-anchor="end" font-weight="normal" fill="#1e1e1e" textLength="8.73" lengthAdjust="spacingAndGlyphs" stroke="#1e1e1e" stroke-width="0.14">20</text>
<text x="56.3" y="238.01" font-size="7.8" text-anchor="end" font-weight="normal" fill="#1e1e1e" textLength="8.73" lengthAdjust="spacingAndGlyphs" stroke="#1e1e1e" stroke-width="0.14">30</text>
<text x="56.3" y="228.33" font-size="7.8" text-anchor="end" font-weight="normal" fill="#1e1e1e" textLength="8.73" lengthAdjust="spacingAndGlyphs" stroke="#1e1e1e" stroke-width="0.14">40</text>
<text x="56.3" y="218.65" font-size="7.8" text-anchor="end" font-weight="normal" fill="#1e1e1e" textLength="8.73" lengthAdjust="spacingAndGlyphs" stroke="#1e1e1e" stroke-width="0.14">50</text>
<text x="56.3" y="208.97" font-size="7.8" text-anchor="end" font-weight="normal" fill="#1e1e1e" textLength="8.73" lengthAdjust="spacingAndGlyphs" stroke="#1e1e1e" stroke-width="0.14">60</text>
<text x="56.3" y="199.29" font-size="7.8" text-anchor="end" font-weight="normal" fill="#1e1e1e" textLength="8.73" lengthAdjust="spacingAndGlyphs" stroke="#1e1e1e" stroke-width="0.14">70</text>
<text x="56.3" y="189.61" font-size="7.8" text-anchor="end" font-weight="normal" fill="#1e1e1e" textLength="8.73" lengthAdjust="spacingAndGlyphs" stroke="#1e1e1e" stroke-width="0.14">80</text>
<text x="56.3" y="179.93" font-size="7.8" text-anchor="end" font-weight="normal" fill="#1e1e1e" textLength="8.73" lengthAdjust="spacingAndGlyphs" stroke="#1e1e1e" stroke-width="0.14">90</text>
<text x="56.3" y="170.25" font-size="7.8" text-anchor="end" font-weight="normal" fill="#1e1e1e" textLength="13.24" lengthAdjust="spacingAndGlyphs" stroke="#1e1e1e" stroke-width="0.14">100</text>
<line x1="62.3" y1="264.6" x2="87.5" y2="264.6" stroke="#1a1a1a" stroke-width="1.5"/>
<path d="M62.3 264.6V267.4M87.5 264.6V267.4M69.89 264.6V266.6M74.32 264.6V266.6M77.47 264.6V266.6M79.91 264.6V266.6M81.91 264.6V266.6M83.6 264.6V266.6M85.06 264.6V266.6M86.35 264.6V266.6" stroke="#1a1a1a" stroke-width="0.85" fill="none"/>
<ellipse cx="63.8" cy="273.9" rx="2.2" ry="1.38" fill="none" stroke="#474747" stroke-width="0.75"/><path d="M61.7 277.6H65.7" stroke="#474747" stroke-width="0.9"/><path d="M61.7 277.6l0.9 0.9" stroke="#474747" stroke-width="0.7"/><text x="62.1" y="271.7" font-size="4.2" fill="#474747" stroke="#474747" stroke-width="0.25" transform="rotate(-90 62.1 271.7)">5</text>
<ellipse cx="89" cy="273.9" rx="2.2" ry="1.38" fill="none" stroke="#474747" stroke-width="0.75"/><path d="M86.9 277.6H90.9" stroke="#474747" stroke-width="0.9"/><path d="M86.9 277.6l0.9 0.9" stroke="#474747" stroke-width="0.7"/><text x="87.3" y="271.7" font-size="4.2" fill="#474747" stroke="#474747" stroke-width="0.25" transform="rotate(-90 87.3 271.7)">6</text>
<line x1="98.2" y1="264.6" x2="128.2" y2="264.6" stroke="#1a1a1a" stroke-width="1.5"/>
<path d="M98.2 264.6V267.4M113.2 264.6V267.4M128.2 264.6V267.4M102.72 264.6V266.6M105.36 264.6V266.6M107.23 264.6V266.6M108.68 264.6V266.6M109.87 264.6V266.6M110.88 264.6V266.6M111.75 264.6V266.6M112.51 264.6V266.6M117.72 264.6V266.6M120.36 264.6V266.6M122.23 264.6V266.6M123.68 264.6V266.6M124.87 264.6V266.6M125.88 264.6V266.6M126.75 264.6V266.6M127.51 264.6V266.6" stroke="#1a1a1a" stroke-width="0.85" fill="none"/>
<ellipse cx="99.7" cy="273.9" rx="2.2" ry="1.38" fill="none" stroke="#474747" stroke-width="0.75"/><path d="M97.6 277.6H101.6" stroke="#474747" stroke-width="0.9"/><path d="M97.6 277.6l0.9 0.9" stroke="#474747" stroke-width="0.7"/><text x="98" y="271.7" font-size="4.2" fill="#474747" stroke="#474747" stroke-width="0.25" transform="rotate(-90 98 271.7)">5</text>
<ellipse cx="114.7" cy="273.9" rx="2.2" ry="1.38" fill="none" stroke="#474747" stroke-width="0.75"/><path d="M112.6 277.6H116.6" stroke="#474747" stroke-width="0.9"/><path d="M112.6 277.6l0.9 0.9" stroke="#474747" stroke-width="0.7"/><text x="113" y="271.7" font-size="4.2" fill="#474747" stroke="#474747" stroke-width="0.25" transform="rotate(-90 113 271.7)">6</text>
<ellipse cx="129.7" cy="273.9" rx="2.2" ry="1.38" fill="none" stroke="#474747" stroke-width="0.75"/><path d="M127.6 277.6H131.6" stroke="#474747" stroke-width="0.9"/><path d="M127.6 277.6l0.9 0.9" stroke="#474747" stroke-width="0.7"/><text x="128" y="271.7" font-size="4.2" fill="#474747" stroke="#474747" stroke-width="0.25" transform="rotate(-90 128 271.7)">7</text>
<line x1="136.5" y1="264.6" x2="171.8" y2="264.6" stroke="#1a1a1a" stroke-width="1.5"/>
<path d="M136.5 264.6V267.4M145.32 264.6V267.4M154.15 264.6V267.4M162.98 264.6V267.4M171.8 264.6V267.4M139.16 264.6V266.6M140.71 264.6V266.6M141.81 264.6V266.6M142.67 264.6V266.6M143.37 264.6V266.6M143.96 264.6V266.6M144.47 264.6V266.6M144.92 264.6V266.6M147.98 264.6V266.6M149.54 264.6V266.6M150.64 264.6V266.6M151.49 264.6V266.6M152.19 264.6V266.6M152.78 264.6V266.6M153.29 264.6V266.6M153.75 264.6V266.6M156.81 264.6V266.6M158.36 264.6V266.6M159.46 264.6V266.6M160.32 264.6V266.6M161.02 264.6V266.6M161.61 264.6V266.6M162.12 264.6V266.6M162.57 264.6V266.6M165.63 264.6V266.6M167.19 264.6V266.6M168.29 264.6V266.6M169.14 264.6V266.6M169.84 264.6V266.6M170.43 264.6V266.6M170.94 264.6V266.6M171.4 264.6V266.6" stroke="#1a1a1a" stroke-width="0.85" fill="none"/>
<ellipse cx="138" cy="273.9" rx="2.2" ry="1.38" fill="none" stroke="#474747" stroke-width="0.75"/><path d="M135.9 277.6H139.9" stroke="#474747" stroke-width="0.9"/><path d="M135.9 277.6l0.9 0.9" stroke="#474747" stroke-width="0.7"/><text x="136.3" y="271.7" font-size="4.2" fill="#474747" stroke="#474747" stroke-width="0.25" transform="rotate(-90 136.3 271.7)">3</text>
<ellipse cx="146.82" cy="273.9" rx="2.2" ry="1.38" fill="none" stroke="#474747" stroke-width="0.75"/><path d="M144.72 277.6H148.72" stroke="#474747" stroke-width="0.9"/><path d="M144.72 277.6l0.9 0.9" stroke="#474747" stroke-width="0.7"/><text x="145.12" y="271.7" font-size="4.2" fill="#474747" stroke="#474747" stroke-width="0.25" transform="rotate(-90 145.12 271.7)">4</text>
<ellipse cx="155.65" cy="273.9" rx="2.2" ry="1.38" fill="none" stroke="#474747" stroke-width="0.75"/><path d="M153.55 277.6H157.55" stroke="#474747" stroke-width="0.9"/><path d="M153.55 277.6l0.9 0.9" stroke="#474747" stroke-width="0.7"/><text x="153.95" y="271.7" font-size="4.2" fill="#474747" stroke="#474747" stroke-width="0.25" transform="rotate(-90 153.95 271.7)">5</text>
<ellipse cx="164.48" cy="273.9" rx="2.2" ry="1.38" fill="none" stroke="#474747" stroke-width="0.75"/><path d="M162.38 277.6H166.38" stroke="#474747" stroke-width="0.9"/><path d="M162.38 277.6l0.9 0.9" stroke="#474747" stroke-width="0.7"/><text x="162.78" y="271.7" font-size="4.2" fill="#474747" stroke="#474747" stroke-width="0.25" transform="rotate(-90 162.78 271.7)">6</text>
<ellipse cx="173.3" cy="273.9" rx="2.2" ry="1.38" fill="none" stroke="#474747" stroke-width="0.75"/><path d="M171.2 277.6H175.2" stroke="#474747" stroke-width="0.9"/><path d="M171.2 277.6l0.9 0.9" stroke="#474747" stroke-width="0.7"/><text x="171.6" y="271.7" font-size="4.2" fill="#474747" stroke="#474747" stroke-width="0.25" transform="rotate(-90 171.6 271.7)">7</text>
<line x1="183.2" y1="264.6" x2="211" y2="264.6" stroke="#1a1a1a" stroke-width="1.5"/>
<path d="M183.2 264.6V267.4M211 264.6V267.4M191.57 264.6V266.6M196.46 264.6V266.6M199.94 264.6V266.6M202.63 264.6V266.6M204.83 264.6V266.6M206.69 264.6V266.6M208.31 264.6V266.6M209.73 264.6V266.6" stroke="#1a1a1a" stroke-width="0.85" fill="none"/>
<ellipse cx="184.7" cy="273.9" rx="2.2" ry="1.38" fill="none" stroke="#474747" stroke-width="0.75"/><path d="M182.6 277.6H186.6" stroke="#474747" stroke-width="0.9"/><path d="M182.6 277.6l0.9 0.9" stroke="#474747" stroke-width="0.7"/><text x="183" y="271.7" font-size="4.2" fill="#474747" stroke="#474747" stroke-width="0.25" transform="rotate(-90 183 271.7)">6</text>
<ellipse cx="212.5" cy="273.9" rx="2.2" ry="1.38" fill="none" stroke="#474747" stroke-width="0.75"/><path d="M210.4 277.6H214.4" stroke="#474747" stroke-width="0.9"/><path d="M210.4 277.6l0.9 0.9" stroke="#474747" stroke-width="0.7"/><text x="210.8" y="271.7" font-size="4.2" fill="#474747" stroke="#474747" stroke-width="0.25" transform="rotate(-90 210.8 271.7)">7</text>
<line x1="222.4" y1="264.6" x2="251.8" y2="264.6" stroke="#1a1a1a" stroke-width="1.5"/>
<path d="M222.4 264.6V267.4M237.1 264.6V267.4M251.8 264.6V267.4M226.83 264.6V266.6M229.41 264.6V266.6M231.25 264.6V266.6M232.67 264.6V266.6M233.84 264.6V266.6M234.82 264.6V266.6M235.68 264.6V266.6M236.43 264.6V266.6M241.53 264.6V266.6M244.11 264.6V266.6M245.95 264.6V266.6M247.37 264.6V266.6M248.54 264.6V266.6M249.52 264.6V266.6M250.38 264.6V266.6M251.13 264.6V266.6" stroke="#1a1a1a" stroke-width="0.85" fill="none"/>
<ellipse cx="223.9" cy="273.9" rx="2.2" ry="1.38" fill="none" stroke="#474747" stroke-width="0.75"/><path d="M221.8 277.6H225.8" stroke="#474747" stroke-width="0.9"/><path d="M221.8 277.6l0.9 0.9" stroke="#474747" stroke-width="0.7"/><text x="222.2" y="271.7" font-size="4.2" fill="#474747" stroke="#474747" stroke-width="0.25" transform="rotate(-90 222.2 271.7)">5</text>
<ellipse cx="238.6" cy="273.9" rx="2.2" ry="1.38" fill="none" stroke="#474747" stroke-width="0.75"/><path d="M236.5 277.6H240.5" stroke="#474747" stroke-width="0.9"/><path d="M236.5 277.6l0.9 0.9" stroke="#474747" stroke-width="0.7"/><text x="236.9" y="271.7" font-size="4.2" fill="#474747" stroke="#474747" stroke-width="0.25" transform="rotate(-90 236.9 271.7)">6</text>
<ellipse cx="253.3" cy="273.9" rx="2.2" ry="1.38" fill="none" stroke="#474747" stroke-width="0.75"/><path d="M251.2 277.6H255.2" stroke="#474747" stroke-width="0.9"/><path d="M251.2 277.6l0.9 0.9" stroke="#474747" stroke-width="0.7"/><text x="251.6" y="271.7" font-size="4.2" fill="#474747" stroke="#474747" stroke-width="0.25" transform="rotate(-90 251.6 271.7)">7</text>
<text x="74.55" y="291.65" font-size="8.2" text-anchor="middle" font-weight="normal" fill="#1a1a1a" textLength="21.6" lengthAdjust="spacingAndGlyphs" stroke="#1a1a1a" stroke-width="0.2">Unsorted</text>
<text x="112.7" y="291.65" font-size="8.2" text-anchor="middle" font-weight="normal" fill="#1a1a1a" textLength="33.5" lengthAdjust="spacingAndGlyphs" stroke="#1a1a1a" stroke-width="0.24">CD34<tspan font-size="5.0" dy="-2.9">+</tspan><tspan dy="2.9"> / CD58</tspan><tspan font-size="5.0" dy="-2.9">+</tspan></text>
<text x="154.6" y="291.65" font-size="8.2" text-anchor="middle" font-weight="normal" fill="#1a1a1a" textLength="33.5" lengthAdjust="spacingAndGlyphs" stroke="#1a1a1a" stroke-width="0.24">CD34<tspan font-size="5.0" dy="-2.9">+</tspan><tspan dy="2.9"> / CD58</tspan><tspan font-size="5.0" dy="-2.9">−</tspan></text>
<text x="197.5" y="291.65" font-size="8.2" text-anchor="middle" font-weight="normal" fill="#1a1a1a" textLength="33.5" lengthAdjust="spacingAndGlyphs" stroke="#1a1a1a" stroke-width="0.24">CD34<tspan font-size="5.0" dy="-2.9">−</tspan><tspan dy="2.9"> / CD58</tspan><tspan font-size="5.0" dy="-2.9">+</tspan></text>
<text x="238.3" y="291.65" font-size="8.2" text-anchor="middle" font-weight="normal" fill="#1a1a1a" textLength="32.5" lengthAdjust="spacingAndGlyphs" stroke="#1a1a1a" stroke-width="0.24">CD34<tspan font-size="5.0" dy="-2.9">−</tspan><tspan dy="2.9"> / CD58</tspan><tspan font-size="5.0" dy="-2.9">−</tspan></text>
<path d="M79.5 167.5L82 170L79.5 172.5L77 170Z" fill="#4b0f6e"/>
<path d="M79.5 170.5L82 173L79.5 175.5L77 173Z" fill="#4b0f6e"/>
<path d="M112.2 168.2L114.7 170.7L112.2 173.2L109.7 170.7Z" fill="#4b0f6e"/>
<path d="M164.5 170.8L167 173.3L164.5 175.8L162 173.3Z" fill="#4b0f6e"/>
<path d="M198.2 183.9L200.7 186.4L198.2 188.9L195.7 186.4Z" fill="#4b0f6e"/>
<path d="M198.2 247L200.7 249.5L198.2 252L195.7 249.5Z" fill="#4b0f6e"/>
<path d="M237.1 167.5L239.6 170L237.1 172.5L234.6 170Z" fill="#4b0f6e"/>
<path d="M156.2 171.62L161.8 171.62L159 176.02Z" fill="#27b034"/>
<path d="M156.2 178.52L161.8 178.52L159 182.92Z" fill="#27b034"/>
<path d="M236.6 171.02L242.2 171.02L239.4 175.42Z" fill="#27b034"/>
<path d="M236.6 174.22L242.2 174.22L239.4 178.62Z" fill="#27b034"/>
<circle cx="79.5" cy="264" r="2.25" fill="#0b4f8f"/>
<circle cx="100.8" cy="235" r="2.25" fill="#0b4f8f"/>
<circle cx="140" cy="243.8" r="2.15" fill="#c8102e" stroke="#3a0612" stroke-width="0.85"/><circle cx="140" cy="243.8" r="0.85" fill="#3a0612"/>
<circle cx="140" cy="264.1" r="2.15" fill="#c8102e" stroke="#3a0612" stroke-width="0.85"/><circle cx="140" cy="264.1" r="0.85" fill="#3a0612"/>
<line x1="316.5" y1="165.1" x2="316.5" y2="266" stroke="#1a1a1a" stroke-width="1.5"/>
<path d="M313.3 264H316.5M314.5 262.03H316.5M314.5 260.07H316.5M314.5 258.1H316.5M314.5 256.14H316.5M313.3 254.17H316.5M314.5 252.2H316.5M314.5 250.24H316.5M314.5 248.27H316.5M314.5 246.31H316.5M313.3 244.34H316.5M314.5 242.37H316.5M314.5 240.41H316.5M314.5 238.44H316.5M314.5 236.48H316.5M313.3 234.51H316.5M314.5 232.54H316.5M314.5 230.58H316.5M314.5 228.61H316.5M314.5 226.65H316.5M313.3 224.68H316.5M314.5 222.71H316.5M314.5 220.75H316.5M314.5 218.78H316.5M314.5 216.82H316.5M313.3 214.85H316.5M314.5 212.88H316.5M314.5 210.92H316.5M314.5 208.95H316.5M314.5 206.99H316.5M313.3 205.02H316.5M314.5 203.05H316.5M314.5 201.09H316.5M314.5 199.12H316.5M314.5 197.16H316.5M313.3 195.19H316.5M314.5 193.22H316.5M314.5 191.26H316.5M314.5 189.29H316.5M314.5 187.33H316.5M313.3 185.36H316.5M314.5 183.39H316.5M314.5 181.43H316.5M314.5 179.46H316.5M314.5 177.5H316.5M313.3 175.53H316.5M314.5 173.56H316.5M314.5 171.6H316.5M314.5 169.63H316.5M314.5 167.67H316.5M313.3 165.7H316.5" stroke="#1a1a1a" stroke-width="0.9" fill="none"/>
<text x="310.5" y="266.75" font-size="7.8" text-anchor="end" font-weight="normal" fill="#1e1e1e" textLength="4.21" lengthAdjust="spacingAndGlyphs" stroke="#1e1e1e" stroke-width="0.14">0</text>
<text x="310.5" y="256.92" font-size="7.8" text-anchor="end" font-weight="normal" fill="#1e1e1e" textLength="8.73" lengthAdjust="spacingAndGlyphs" stroke="#1e1e1e" stroke-width="0.14">10</text>
<text x="310.5" y="247.09" font-size="7.8" text-anchor="end" font-weight="normal" fill="#1e1e1e" textLength="8.73" lengthAdjust="spacingAndGlyphs" stroke="#1e1e1e" stroke-width="0.14">20</text>
<text x="310.5" y="237.26" font-size="7.8" text-anchor="end" font-weight="normal" fill="#1e1e1e" textLength="8.73" lengthAdjust="spacingAndGlyphs" stroke="#1e1e1e" stroke-width="0.14">30</text>
<text x="310.5" y="227.43" font-size="7.8" text-anchor="end" font-weight="normal" fill="#1e1e1e" textLength="8.73" lengthAdjust="spacingAndGlyphs" stroke="#1e1e1e" stroke-width="0.14">40</text>
<text x="310.5" y="217.6" font-size="7.8" text-anchor="end" font-weight="normal" fill="#1e1e1e" textLength="8.73" lengthAdjust="spacingAndGlyphs" stroke="#1e1e1e" stroke-width="0.14">50</text>
<text x="310.5" y="207.77" font-size="7.8" text-anchor="end" font-weight="normal" fill="#1e1e1e" textLength="8.73" lengthAdjust="spacingAndGlyphs" stroke="#1e1e1e" stroke-width="0.14">60</text>
<text x="310.5" y="197.94" font-size="7.8" text-anchor="end" font-weight="normal" fill="#1e1e1e" textLength="8.73" lengthAdjust="spacingAndGlyphs" stroke="#1e1e1e" stroke-width="0.14">70</text>
<text x="310.5" y="188.11" font-size="7.8" text-anchor="end" font-weight="normal" fill="#1e1e1e" textLength="8.73" lengthAdjust="spacingAndGlyphs" stroke="#1e1e1e" stroke-width="0.14">80</text>
<text x="310.5" y="178.28" font-size="7.8" text-anchor="end" font-weight="normal" fill="#1e1e1e" textLength="8.73" lengthAdjust="spacingAndGlyphs" stroke="#1e1e1e" stroke-width="0.14">90</text>
<text x="310.5" y="168.45" font-size="7.8" text-anchor="end" font-weight="normal" fill="#1e1e1e" textLength="13.24" lengthAdjust="spacingAndGlyphs" stroke="#1e1e1e" stroke-width="0.14">100</text>
<line x1="316.5" y1="264.3" x2="341.7" y2="264.3" stroke="#1a1a1a" stroke-width="1.5"/>
<path d="M316.5 264.3V267.1M341.7 264.3V267.1M324.09 264.3V266.3M328.52 264.3V266.3M331.67 264.3V266.3M334.11 264.3V266.3M336.11 264.3V266.3M337.8 264.3V266.3M339.26 264.3V266.3M340.55 264.3V266.3" stroke="#1a1a1a" stroke-width="0.85" fill="none"/>
<ellipse cx="318" cy="273.6" rx="2.2" ry="1.38" fill="none" stroke="#474747" stroke-width="0.75"/><path d="M315.9 277.3H319.9" stroke="#474747" stroke-width="0.9"/><path d="M315.9 277.3l0.9 0.9" stroke="#474747" stroke-width="0.7"/><text x="316.3" y="271.4" font-size="4.2" fill="#474747" stroke="#474747" stroke-width="0.25" transform="rotate(-90 316.3 271.4)">5</text>
<ellipse cx="343.2" cy="273.6" rx="2.2" ry="1.38" fill="none" stroke="#474747" stroke-width="0.75"/><path d="M341.1 277.3H345.1" stroke="#474747" stroke-width="0.9"/><path d="M341.1 277.3l0.9 0.9" stroke="#474747" stroke-width="0.7"/><text x="341.5" y="271.4" font-size="4.2" fill="#474747" stroke="#474747" stroke-width="0.25" transform="rotate(-90 341.5 271.4)">6</text>
<line x1="351.1" y1="264.3" x2="379.4" y2="264.3" stroke="#1a1a1a" stroke-width="1.5"/>
<path d="M351.1 264.3V267.1M379.4 264.3V267.1M359.62 264.3V266.3M364.6 264.3V266.3M368.14 264.3V266.3M370.88 264.3V266.3M373.12 264.3V266.3M375.02 264.3V266.3M376.66 264.3V266.3M378.11 264.3V266.3" stroke="#1a1a1a" stroke-width="0.85" fill="none"/>
<ellipse cx="352.6" cy="273.6" rx="2.2" ry="1.38" fill="none" stroke="#474747" stroke-width="0.75"/><path d="M350.5 277.3H354.5" stroke="#474747" stroke-width="0.9"/><path d="M350.5 277.3l0.9 0.9" stroke="#474747" stroke-width="0.7"/><text x="350.9" y="271.4" font-size="4.2" fill="#474747" stroke="#474747" stroke-width="0.25" transform="rotate(-90 350.9 271.4)">6</text>
<ellipse cx="380.9" cy="273.6" rx="2.2" ry="1.38" fill="none" stroke="#474747" stroke-width="0.75"/><path d="M378.8 277.3H382.8" stroke="#474747" stroke-width="0.9"/><path d="M378.8 277.3l0.9 0.9" stroke="#474747" stroke-width="0.7"/><text x="379.2" y="271.4" font-size="4.2" fill="#474747" stroke="#474747" stroke-width="0.25" transform="rotate(-90 379.2 271.4)">7</text>
<line x1="392.9" y1="264.3" x2="428.8" y2="264.3" stroke="#1a1a1a" stroke-width="1.5"/>
<path d="M392.9 264.3V267.1M428.8 264.3V267.1M403.71 264.3V266.3M410.03 264.3V266.3M414.51 264.3V266.3M417.99 264.3V266.3M420.84 264.3V266.3M423.24 264.3V266.3M425.32 264.3V266.3M427.16 264.3V266.3" stroke="#1a1a1a" stroke-width="0.85" fill="none"/>
<ellipse cx="394.4" cy="273.6" rx="2.2" ry="1.38" fill="none" stroke="#474747" stroke-width="0.75"/><path d="M392.3 277.3H396.3" stroke="#474747" stroke-width="0.9"/><path d="M392.3 277.3l0.9 0.9" stroke="#474747" stroke-width="0.7"/><text x="392.7" y="271.4" font-size="4.2" fill="#474747" stroke="#474747" stroke-width="0.25" transform="rotate(-90 392.7 271.4)">4</text>
<ellipse cx="430.3" cy="273.6" rx="2.2" ry="1.38" fill="none" stroke="#474747" stroke-width="0.75"/><path d="M428.2 277.3H432.2" stroke="#474747" stroke-width="0.9"/><path d="M428.2 277.3l0.9 0.9" stroke="#474747" stroke-width="0.7"/><text x="428.6" y="271.4" font-size="4.2" fill="#474747" stroke="#474747" stroke-width="0.25" transform="rotate(-90 428.6 271.4)">5</text>
<line x1="442.5" y1="264.3" x2="469.2" y2="264.3" stroke="#1a1a1a" stroke-width="1.5"/>
<path d="M442.5 264.3V267.1M469.2 264.3V267.1M450.54 264.3V266.3M455.24 264.3V266.3M458.58 264.3V266.3M461.16 264.3V266.3M463.28 264.3V266.3M465.06 264.3V266.3M466.61 264.3V266.3M467.98 264.3V266.3" stroke="#1a1a1a" stroke-width="0.85" fill="none"/>
<ellipse cx="444" cy="273.6" rx="2.2" ry="1.38" fill="none" stroke="#474747" stroke-width="0.75"/><path d="M441.9 277.3H445.9" stroke="#474747" stroke-width="0.9"/><path d="M441.9 277.3l0.9 0.9" stroke="#474747" stroke-width="0.7"/><text x="442.3" y="271.4" font-size="4.2" fill="#474747" stroke="#474747" stroke-width="0.25" transform="rotate(-90 442.3 271.4)">6</text>
<ellipse cx="470.7" cy="273.6" rx="2.2" ry="1.38" fill="none" stroke="#474747" stroke-width="0.75"/><path d="M468.6 277.3H472.6" stroke="#474747" stroke-width="0.9"/><path d="M468.6 277.3l0.9 0.9" stroke="#474747" stroke-width="0.7"/><text x="469" y="271.4" font-size="4.2" fill="#474747" stroke="#474747" stroke-width="0.25" transform="rotate(-90 469 271.4)">7</text>
<line x1="478.3" y1="264.3" x2="505.5" y2="264.3" stroke="#1a1a1a" stroke-width="1.5"/>
<path d="M478.3 264.3V267.1M505.5 264.3V267.1M486.49 264.3V266.3M491.28 264.3V266.3M494.68 264.3V266.3M497.31 264.3V266.3M499.47 264.3V266.3M501.29 264.3V266.3M502.86 264.3V266.3M504.26 264.3V266.3" stroke="#1a1a1a" stroke-width="0.85" fill="none"/>
<ellipse cx="479.8" cy="273.6" rx="2.2" ry="1.38" fill="none" stroke="#474747" stroke-width="0.75"/><path d="M477.7 277.3H481.7" stroke="#474747" stroke-width="0.9"/><path d="M477.7 277.3l0.9 0.9" stroke="#474747" stroke-width="0.7"/><text x="478.1" y="271.4" font-size="4.2" fill="#474747" stroke="#474747" stroke-width="0.25" transform="rotate(-90 478.1 271.4)">4</text>
<ellipse cx="507" cy="273.6" rx="2.2" ry="1.38" fill="none" stroke="#474747" stroke-width="0.75"/><path d="M504.9 277.3H508.9" stroke="#474747" stroke-width="0.9"/><path d="M504.9 277.3l0.9 0.9" stroke="#474747" stroke-width="0.7"/><text x="505.3" y="271.4" font-size="4.2" fill="#474747" stroke="#474747" stroke-width="0.25" transform="rotate(-90 505.3 271.4)">5</text>
<text x="328.45" y="291.4" font-size="8.2" text-anchor="middle" font-weight="normal" fill="#1a1a1a" textLength="21.6" lengthAdjust="spacingAndGlyphs" stroke="#1a1a1a" stroke-width="0.2">Unsorted</text>
<text x="365" y="291.4" font-size="8.2" text-anchor="middle" font-weight="normal" fill="#1a1a1a" textLength="33.5" lengthAdjust="spacingAndGlyphs" stroke="#1a1a1a" stroke-width="0.24">CD34<tspan font-size="5.0" dy="-2.9">+</tspan><tspan dy="2.9"> / CD58</tspan><tspan font-size="5.0" dy="-2.9">+</tspan></text>
<text x="410.4" y="291.4" font-size="8.2" text-anchor="middle" font-weight="normal" fill="#1a1a1a" textLength="33.5" lengthAdjust="spacingAndGlyphs" stroke="#1a1a1a" stroke-width="0.24">CD34<tspan font-size="5.0" dy="-2.9">+</tspan><tspan dy="2.9"> / CD58</tspan><tspan font-size="5.0" dy="-2.9">−</tspan></text>
<text x="454.3" y="291.4" font-size="8.2" text-anchor="middle" font-weight="normal" fill="#1a1a1a" textLength="33.5" lengthAdjust="spacingAndGlyphs" stroke="#1a1a1a" stroke-width="0.24">CD34<tspan font-size="5.0" dy="-2.9">−</tspan><tspan dy="2.9"> / CD58</tspan><tspan font-size="5.0" dy="-2.9">+</tspan></text>
<text x="493.5" y="291.4" font-size="8.2" text-anchor="middle" font-weight="normal" fill="#1a1a1a" textLength="32.5" lengthAdjust="spacingAndGlyphs" stroke="#1a1a1a" stroke-width="0.24">CD34<tspan font-size="5.0" dy="-2.9">−</tspan><tspan dy="2.9"> / CD58</tspan><tspan font-size="5.0" dy="-2.9">−</tspan></text>
<path d="M333.4 166.8L334.08 168.57L335.97 168.67L334.49 169.86L334.99 171.68L333.4 170.65L331.81 171.68L332.31 169.86L330.83 168.67L332.72 168.57Z" fill="#ff8a00"/>
<path d="M333.4 169.8L334.08 171.57L335.97 171.67L334.49 172.86L334.99 174.68L333.4 173.65L331.81 174.68L332.31 172.86L330.83 171.67L332.72 171.57Z" fill="#ff8a00"/>
<path d="M360.5 169.8L361.18 171.57L363.07 171.67L361.59 172.86L362.09 174.68L360.5 173.65L358.91 174.68L359.41 172.86L357.93 171.67L359.82 171.57Z" fill="#ff8a00"/>
<path d="M425.2 171.7L425.88 173.47L427.77 173.57L426.29 174.76L426.79 176.58L425.2 175.55L423.61 176.58L424.11 174.76L422.63 173.57L424.52 173.47Z" fill="#ff8a00"/>
<path d="M425.2 248.7L425.88 250.47L427.77 250.57L426.29 251.76L426.79 253.58L425.2 252.55L423.61 253.58L424.11 251.76L422.63 250.57L424.52 250.47Z" fill="#ff8a00"/>
<path d="M464.8 176.5L465.48 178.27L467.37 178.37L465.89 179.56L466.39 181.38L464.8 180.35L463.21 181.38L463.71 179.56L462.23 178.37L464.12 178.27Z" fill="#ff8a00"/>
<path d="M464.8 241.2L465.48 242.97L467.37 243.07L465.89 244.26L466.39 246.08L464.8 245.05L463.21 246.08L463.71 244.26L462.23 243.07L464.12 242.97Z" fill="#ff8a00"/>
<path d="M490.9 205.3L491.58 207.07L493.47 207.17L491.99 208.36L492.49 210.18L490.9 209.15L489.31 210.18L489.81 208.36L488.33 207.17L490.22 207.07Z" fill="#ff8a00"/>
<path d="M490.9 223.7L491.58 225.47L493.47 225.57L491.99 226.76L492.49 228.58L490.9 227.55L489.31 228.58L489.81 226.76L488.33 225.57L490.22 225.47Z" fill="#ff8a00"/>
<line x1="61.3" y1="326.9" x2="61.3" y2="428.6" stroke="#1a1a1a" stroke-width="1.5"/>
<path d="M58.1 426.6H61.3M59.3 424.62H61.3M59.3 422.64H61.3M59.3 420.65H61.3M59.3 418.67H61.3M58.1 416.69H61.3M59.3 414.71H61.3M59.3 412.73H61.3M59.3 410.74H61.3M59.3 408.76H61.3M58.1 406.78H61.3M59.3 404.8H61.3M59.3 402.82H61.3M59.3 400.83H61.3M59.3 398.85H61.3M58.1 396.87H61.3M59.3 394.89H61.3M59.3 392.91H61.3M59.3 390.92H61.3M59.3 388.94H61.3M58.1 386.96H61.3M59.3 384.98H61.3M59.3 383H61.3M59.3 381.01H61.3M59.3 379.03H61.3M58.1 377.05H61.3M59.3 375.07H61.3M59.3 373.09H61.3M59.3 371.1H61.3M59.3 369.12H61.3M58.1 367.14H61.3M59.3 365.16H61.3M59.3 363.18H61.3M59.3 361.19H61.3M59.3 359.21H61.3M58.1 357.23H61.3M59.3 355.25H61.3M59.3 353.27H61.3M59.3 351.28H61.3M59.3 349.3H61.3M58.1 347.32H61.3M59.3 345.34H61.3M59.3 343.36H61.3M59.3 341.37H61.3M59.3 339.39H61.3M58.1 337.41H61.3M59.3 335.43H61.3M59.3 333.45H61.3M59.3 331.46H61.3M59.3 329.48H61.3M58.1 327.5H61.3" stroke="#1a1a1a" stroke-width="0.9" fill="none"/>
<text x="55.3" y="429.35" font-size="7.8" text-anchor="end" font-weight="normal" fill="#1e1e1e" textLength="4.21" lengthAdjust="spacingAndGlyphs" stroke="#1e1e1e" stroke-width="0.14">0</text>
<text x="55.3" y="419.44" font-size="7.8" text-anchor="end" font-weight="normal" fill="#1e1e1e" textLength="8.73" lengthAdjust="spacingAndGlyphs" stroke="#1e1e1e" stroke-width="0.14">10</text>
<text x="55.3" y="409.53" font-size="7.8" text-anchor="end" font-weight="normal" fill="#1e1e1e" textLength="8.73" lengthAdjust="spacingAndGlyphs" stroke="#1e1e1e" stroke-width="0.14">20</text>
<text x="55.3" y="399.62" font-size="7.8" text-anchor="end" font-weight="normal" fill="#1e1e1e" textLength="8.73" lengthAdjust="spacingAndGlyphs" stroke="#1e1e1e" stroke-width="0.14">30</text>
<text x="55.3" y="389.71" font-size="7.8" text-anchor="end" font-weight="normal" fill="#1e1e1e" textLength="8.73" lengthAdjust="spacingAndGlyphs" stroke="#1e1e1e" stroke-width="0.14">40</text>
<text x="55.3" y="379.8" font-size="7.8" text-anchor="end" font-weight="normal" fill="#1e1e1e" textLength="8.73" lengthAdjust="spacingAndGlyphs" stroke="#1e1e1e" stroke-width="0.14">50</text>
<text x="55.3" y="369.89" font-size="7.8" text-anchor="end" font-weight="normal" fill="#1e1e1e" textLength="8.73" lengthAdjust="spacingAndGlyphs" stroke="#1e1e1e" stroke-width="0.14">60</text>
<text x="55.3" y="359.98" font-size="7.8" text-anchor="end" font-weight="normal" fill="#1e1e1e" textLength="8.73" lengthAdjust="spacingAndGlyphs" stroke="#1e1e1e" stroke-width="0.14">70</text>
<text x="55.3" y="350.07" font-size="7.8" text-anchor="end" font-weight="normal" fill="#1e1e1e" textLength="8.73" lengthAdjust="spacingAndGlyphs" stroke="#1e1e1e" stroke-width="0.14">80</text>
<text x="55.3" y="340.16" font-size="7.8" text-anchor="end" font-weight="normal" fill="#1e1e1e" textLength="8.73" lengthAdjust="spacingAndGlyphs" stroke="#1e1e1e" stroke-width="0.14">90</text>
<text x="55.3" y="330.25" font-size="7.8" text-anchor="end" font-weight="normal" fill="#1e1e1e" textLength="13.24" lengthAdjust="spacingAndGlyphs" stroke="#1e1e1e" stroke-width="0.14">100</text>
<line x1="61.3" y1="426.9" x2="87.1" y2="426.9" stroke="#1a1a1a" stroke-width="1.5"/>
<path d="M61.3 426.9V429.7M74.2 426.9V429.7M87.1 426.9V429.7M65.18 426.9V428.9M67.45 426.9V428.9M69.07 426.9V428.9M70.32 426.9V428.9M71.34 426.9V428.9M72.2 426.9V428.9M72.95 426.9V428.9M73.61 426.9V428.9M78.08 426.9V428.9M80.35 426.9V428.9M81.97 426.9V428.9M83.22 426.9V428.9M84.24 426.9V428.9M85.1 426.9V428.9M85.85 426.9V428.9M86.51 426.9V428.9" stroke="#1a1a1a" stroke-width="0.85" fill="none"/>
<ellipse cx="62.8" cy="436.2" rx="2.2" ry="1.38" fill="none" stroke="#474747" stroke-width="0.75"/><path d="M60.7 439.9H64.7" stroke="#474747" stroke-width="0.9"/><path d="M60.7 439.9l0.9 0.9" stroke="#474747" stroke-width="0.7"/><text x="61.1" y="434" font-size="4.2" fill="#474747" stroke="#474747" stroke-width="0.25" transform="rotate(-90 61.1 434)">5</text>
<ellipse cx="75.7" cy="436.2" rx="2.2" ry="1.38" fill="none" stroke="#474747" stroke-width="0.75"/><path d="M73.6 439.9H77.6" stroke="#474747" stroke-width="0.9"/><path d="M73.6 439.9l0.9 0.9" stroke="#474747" stroke-width="0.7"/><text x="74" y="434" font-size="4.2" fill="#474747" stroke="#474747" stroke-width="0.25" transform="rotate(-90 74 434)">6</text>
<ellipse cx="88.6" cy="436.2" rx="2.2" ry="1.38" fill="none" stroke="#474747" stroke-width="0.75"/><path d="M86.5 439.9H90.5" stroke="#474747" stroke-width="0.9"/><path d="M86.5 439.9l0.9 0.9" stroke="#474747" stroke-width="0.7"/><text x="86.9" y="434" font-size="4.2" fill="#474747" stroke="#474747" stroke-width="0.25" transform="rotate(-90 86.9 434)">7</text>
<line x1="97.7" y1="426.9" x2="128.8" y2="426.9" stroke="#1a1a1a" stroke-width="1.5"/>
<path d="M97.7 426.9V429.7M128.8 426.9V429.7M107.06 426.9V428.9M112.54 426.9V428.9M116.42 426.9V428.9M119.44 426.9V428.9M121.9 426.9V428.9M123.98 426.9V428.9M125.79 426.9V428.9M127.38 426.9V428.9" stroke="#1a1a1a" stroke-width="0.85" fill="none"/>
<ellipse cx="99.2" cy="436.2" rx="2.2" ry="1.38" fill="none" stroke="#474747" stroke-width="0.75"/><path d="M97.1 439.9H101.1" stroke="#474747" stroke-width="0.9"/><path d="M97.1 439.9l0.9 0.9" stroke="#474747" stroke-width="0.7"/><text x="97.5" y="434" font-size="4.2" fill="#474747" stroke="#474747" stroke-width="0.25" transform="rotate(-90 97.5 434)">6</text>
<ellipse cx="130.3" cy="436.2" rx="2.2" ry="1.38" fill="none" stroke="#474747" stroke-width="0.75"/><path d="M128.2 439.9H132.2" stroke="#474747" stroke-width="0.9"/><path d="M128.2 439.9l0.9 0.9" stroke="#474747" stroke-width="0.7"/><text x="128.6" y="434" font-size="4.2" fill="#474747" stroke="#474747" stroke-width="0.25" transform="rotate(-90 128.6 434)">7</text>
<line x1="138.8" y1="426.9" x2="170" y2="426.9" stroke="#1a1a1a" stroke-width="1.5"/>
<path d="M138.8 426.9V429.7M154.4 426.9V429.7M170 426.9V429.7M143.5 426.9V428.9M146.24 426.9V428.9M148.19 426.9V428.9M149.7 426.9V428.9M150.94 426.9V428.9M151.98 426.9V428.9M152.89 426.9V428.9M153.69 426.9V428.9M159.1 426.9V428.9M161.84 426.9V428.9M163.79 426.9V428.9M165.3 426.9V428.9M166.54 426.9V428.9M167.58 426.9V428.9M168.49 426.9V428.9M169.29 426.9V428.9" stroke="#1a1a1a" stroke-width="0.85" fill="none"/>
<ellipse cx="140.3" cy="436.2" rx="2.2" ry="1.38" fill="none" stroke="#474747" stroke-width="0.75"/><path d="M138.2 439.9H142.2" stroke="#474747" stroke-width="0.9"/><path d="M138.2 439.9l0.9 0.9" stroke="#474747" stroke-width="0.7"/><text x="138.6" y="434" font-size="4.2" fill="#474747" stroke="#474747" stroke-width="0.25" transform="rotate(-90 138.6 434)">5</text>
<ellipse cx="155.9" cy="436.2" rx="2.2" ry="1.38" fill="none" stroke="#474747" stroke-width="0.75"/><path d="M153.8 439.9H157.8" stroke="#474747" stroke-width="0.9"/><path d="M153.8 439.9l0.9 0.9" stroke="#474747" stroke-width="0.7"/><text x="154.2" y="434" font-size="4.2" fill="#474747" stroke="#474747" stroke-width="0.25" transform="rotate(-90 154.2 434)">6</text>
<ellipse cx="171.5" cy="436.2" rx="2.2" ry="1.38" fill="none" stroke="#474747" stroke-width="0.75"/><path d="M169.4 439.9H173.4" stroke="#474747" stroke-width="0.9"/><path d="M169.4 439.9l0.9 0.9" stroke="#474747" stroke-width="0.7"/><text x="169.8" y="434" font-size="4.2" fill="#474747" stroke="#474747" stroke-width="0.25" transform="rotate(-90 169.8 434)">7</text>
<line x1="180" y1="426.9" x2="211.2" y2="426.9" stroke="#1a1a1a" stroke-width="1.5"/>
<path d="M180 426.9V429.7M195.6 426.9V429.7M211.2 426.9V429.7M184.7 426.9V428.9M187.44 426.9V428.9M189.39 426.9V428.9M190.9 426.9V428.9M192.14 426.9V428.9M193.18 426.9V428.9M194.09 426.9V428.9M194.89 426.9V428.9M200.3 426.9V428.9M203.04 426.9V428.9M204.99 426.9V428.9M206.5 426.9V428.9M207.74 426.9V428.9M208.78 426.9V428.9M209.69 426.9V428.9M210.49 426.9V428.9" stroke="#1a1a1a" stroke-width="0.85" fill="none"/>
<ellipse cx="181.5" cy="436.2" rx="2.2" ry="1.38" fill="none" stroke="#474747" stroke-width="0.75"/><path d="M179.4 439.9H183.4" stroke="#474747" stroke-width="0.9"/><path d="M179.4 439.9l0.9 0.9" stroke="#474747" stroke-width="0.7"/><text x="179.8" y="434" font-size="4.2" fill="#474747" stroke="#474747" stroke-width="0.25" transform="rotate(-90 179.8 434)">5</text>
<ellipse cx="197.1" cy="436.2" rx="2.2" ry="1.38" fill="none" stroke="#474747" stroke-width="0.75"/><path d="M195 439.9H199" stroke="#474747" stroke-width="0.9"/><path d="M195 439.9l0.9 0.9" stroke="#474747" stroke-width="0.7"/><text x="195.4" y="434" font-size="4.2" fill="#474747" stroke="#474747" stroke-width="0.25" transform="rotate(-90 195.4 434)">6</text>
<ellipse cx="212.7" cy="436.2" rx="2.2" ry="1.38" fill="none" stroke="#474747" stroke-width="0.75"/><path d="M210.6 439.9H214.6" stroke="#474747" stroke-width="0.9"/><path d="M210.6 439.9l0.9 0.9" stroke="#474747" stroke-width="0.7"/><text x="211" y="434" font-size="4.2" fill="#474747" stroke="#474747" stroke-width="0.25" transform="rotate(-90 211 434)">7</text>
<line x1="220.6" y1="426.9" x2="251.2" y2="426.9" stroke="#1a1a1a" stroke-width="1.5"/>
<path d="M220.6 426.9V429.7M235.9 426.9V429.7M251.2 426.9V429.7M225.21 426.9V428.9M227.9 426.9V428.9M229.81 426.9V428.9M231.29 426.9V428.9M232.51 426.9V428.9M233.53 426.9V428.9M234.42 426.9V428.9M235.2 426.9V428.9M240.51 426.9V428.9M243.2 426.9V428.9M245.11 426.9V428.9M246.59 426.9V428.9M247.81 426.9V428.9M248.83 426.9V428.9M249.72 426.9V428.9M250.5 426.9V428.9" stroke="#1a1a1a" stroke-width="0.85" fill="none"/>
<ellipse cx="222.1" cy="436.2" rx="2.2" ry="1.38" fill="none" stroke="#474747" stroke-width="0.75"/><path d="M220 439.9H224" stroke="#474747" stroke-width="0.9"/><path d="M220 439.9l0.9 0.9" stroke="#474747" stroke-width="0.7"/><text x="220.4" y="434" font-size="4.2" fill="#474747" stroke="#474747" stroke-width="0.25" transform="rotate(-90 220.4 434)">5</text>
<ellipse cx="237.4" cy="436.2" rx="2.2" ry="1.38" fill="none" stroke="#474747" stroke-width="0.75"/><path d="M235.3 439.9H239.3" stroke="#474747" stroke-width="0.9"/><path d="M235.3 439.9l0.9 0.9" stroke="#474747" stroke-width="0.7"/><text x="235.7" y="434" font-size="4.2" fill="#474747" stroke="#474747" stroke-width="0.25" transform="rotate(-90 235.7 434)">6</text>
<ellipse cx="252.7" cy="436.2" rx="2.2" ry="1.38" fill="none" stroke="#474747" stroke-width="0.75"/><path d="M250.6 439.9H254.6" stroke="#474747" stroke-width="0.9"/><path d="M250.6 439.9l0.9 0.9" stroke="#474747" stroke-width="0.7"/><text x="251" y="434" font-size="4.2" fill="#474747" stroke="#474747" stroke-width="0.25" transform="rotate(-90 251 434)">7</text>
<text x="74.55" y="453.65" font-size="8.2" text-anchor="middle" font-weight="normal" fill="#1a1a1a" textLength="21.6" lengthAdjust="spacingAndGlyphs" stroke="#1a1a1a" stroke-width="0.2">Unsorted</text>
<text x="113" y="453.65" font-size="8.2" text-anchor="middle" font-weight="normal" fill="#1a1a1a" textLength="33.5" lengthAdjust="spacingAndGlyphs" stroke="#1a1a1a" stroke-width="0.24">CD34<tspan font-size="5.0" dy="-2.9">+</tspan><tspan dy="2.9"> / CD57</tspan><tspan font-size="5.0" dy="-2.9">+</tspan></text>
<text x="154.5" y="453.65" font-size="8.2" text-anchor="middle" font-weight="normal" fill="#1a1a1a" textLength="33.5" lengthAdjust="spacingAndGlyphs" stroke="#1a1a1a" stroke-width="0.24">CD34<tspan font-size="5.0" dy="-2.9">+</tspan><tspan dy="2.9"> / CD57</tspan><tspan font-size="5.0" dy="-2.9">−</tspan></text>
<text x="196" y="453.65" font-size="8.2" text-anchor="middle" font-weight="normal" fill="#1a1a1a" textLength="33.5" lengthAdjust="spacingAndGlyphs" stroke="#1a1a1a" stroke-width="0.24">CD34<tspan font-size="5.0" dy="-2.9">−</tspan><tspan dy="2.9"> / CD57</tspan><tspan font-size="5.0" dy="-2.9">+</tspan></text>
<text x="235.9" y="453.65" font-size="8.2" text-anchor="middle" font-weight="normal" fill="#1a1a1a" textLength="32.5" lengthAdjust="spacingAndGlyphs" stroke="#1a1a1a" stroke-width="0.24">CD34<tspan font-size="5.0" dy="-2.9">−</tspan><tspan dy="2.9"> / CD57</tspan><tspan font-size="5.0" dy="-2.9">−</tspan></text>
<path d="M78.3 383L80.8 385.5L78.3 388L75.8 385.5Z" fill="#4b0f6e"/>
<path d="M107 382.5L109.5 385L107 387.5L104.5 385Z" fill="#4b0f6e"/>
<path d="M155.4 423.4L157.9 425.9L155.4 428.4L152.9 425.9Z" fill="#4b0f6e"/>
<path d="M204.4 401.1L206.9 403.6L204.4 406.1L201.9 403.6Z" fill="#4b0f6e"/>
<path d="M236.8 422.7L239.3 425.2L236.8 427.7L234.3 425.2Z" fill="#4b0f6e"/>
<path d="M74.5 398.78L77.1 403.18L71.9 403.18Z" fill="#ff8c00"/>
<path d="M107.8 387.98L110.4 392.38L105.2 392.38Z" fill="#ff8c00"/>
<path d="M153.7 403.18L156.3 407.58L151.1 407.58Z" fill="#ff8c00"/>
<path d="M195.6 420.78L198.2 425.18L193 425.18Z" fill="#ff8c00"/>
<path d="M223.4 422.78L226 427.18L220.8 427.18Z" fill="#ff8c00"/>
<line x1="317.1" y1="326.9" x2="317.1" y2="427.9" stroke="#1a1a1a" stroke-width="1.5"/>
<path d="M313.9 425.9H317.1M315.1 423.93H317.1M315.1 421.96H317.1M315.1 420H317.1M315.1 418.03H317.1M313.9 416.06H317.1M315.1 414.09H317.1M315.1 412.12H317.1M315.1 410.16H317.1M315.1 408.19H317.1M313.9 406.22H317.1M315.1 404.25H317.1M315.1 402.28H317.1M315.1 400.32H317.1M315.1 398.35H317.1M313.9 396.38H317.1M315.1 394.41H317.1M315.1 392.44H317.1M315.1 390.48H317.1M315.1 388.51H317.1M313.9 386.54H317.1M315.1 384.57H317.1M315.1 382.6H317.1M315.1 380.64H317.1M315.1 378.67H317.1M313.9 376.7H317.1M315.1 374.73H317.1M315.1 372.76H317.1M315.1 370.8H317.1M315.1 368.83H317.1M313.9 366.86H317.1M315.1 364.89H317.1M315.1 362.92H317.1M315.1 360.96H317.1M315.1 358.99H317.1M313.9 357.02H317.1M315.1 355.05H317.1M315.1 353.08H317.1M315.1 351.12H317.1M315.1 349.15H317.1M313.9 347.18H317.1M315.1 345.21H317.1M315.1 343.24H317.1M315.1 341.28H317.1M315.1 339.31H317.1M313.9 337.34H317.1M315.1 335.37H317.1M315.1 333.4H317.1M315.1 331.44H317.1M315.1 329.47H317.1M313.9 327.5H317.1" stroke="#1a1a1a" stroke-width="0.9" fill="none"/>
<text x="311.1" y="428.65" font-size="7.8" text-anchor="end" font-weight="normal" fill="#1e1e1e" textLength="4.21" lengthAdjust="spacingAndGlyphs" stroke="#1e1e1e" stroke-width="0.14">0</text>
<text x="311.1" y="418.81" font-size="7.8" text-anchor="end" font-weight="normal" fill="#1e1e1e" textLength="8.73" lengthAdjust="spacingAndGlyphs" stroke="#1e1e1e" stroke-width="0.14">10</text>
<text x="311.1" y="408.97" font-size="7.8" text-anchor="end" font-weight="normal" fill="#1e1e1e" textLength="8.73" lengthAdjust="spacingAndGlyphs" stroke="#1e1e1e" stroke-width="0.14">20</text>
<text x="311.1" y="399.13" font-size="7.8" text-anchor="end" font-weight="normal" fill="#1e1e1e" textLength="8.73" lengthAdjust="spacingAndGlyphs" stroke="#1e1e1e" stroke-width="0.14">30</text>
<text x="311.1" y="389.29" font-size="7.8" text-anchor="end" font-weight="normal" fill="#1e1e1e" textLength="8.73" lengthAdjust="spacingAndGlyphs" stroke="#1e1e1e" stroke-width="0.14">40</text>
<text x="311.1" y="379.45" font-size="7.8" text-anchor="end" font-weight="normal" fill="#1e1e1e" textLength="8.73" lengthAdjust="spacingAndGlyphs" stroke="#1e1e1e" stroke-width="0.14">50</text>
<text x="311.1" y="369.61" font-size="7.8" text-anchor="end" font-weight="normal" fill="#1e1e1e" textLength="8.73" lengthAdjust="spacingAndGlyphs" stroke="#1e1e1e" stroke-width="0.14">60</text>
<text x="311.1" y="359.77" font-size="7.8" text-anchor="end" font-weight="normal" fill="#1e1e1e" textLength="8.73" lengthAdjust="spacingAndGlyphs" stroke="#1e1e1e" stroke-width="0.14">70</text>
<text x="311.1" y="349.93" font-size="7.8" text-anchor="end" font-weight="normal" fill="#1e1e1e" textLength="8.73" lengthAdjust="spacingAndGlyphs" stroke="#1e1e1e" stroke-width="0.14">80</text>
<text x="311.1" y="340.09" font-size="7.8" text-anchor="end" font-weight="normal" fill="#1e1e1e" textLength="8.73" lengthAdjust="spacingAndGlyphs" stroke="#1e1e1e" stroke-width="0.14">90</text>
<text x="311.1" y="330.25" font-size="7.8" text-anchor="end" font-weight="normal" fill="#1e1e1e" textLength="13.24" lengthAdjust="spacingAndGlyphs" stroke="#1e1e1e" stroke-width="0.14">100</text>
<line x1="317.1" y1="426.2" x2="342.5" y2="426.2" stroke="#1a1a1a" stroke-width="1.5"/>
<path d="M317.1 426.2V429M329.8 426.2V429M342.5 426.2V429M320.92 426.2V428.2M323.16 426.2V428.2M324.75 426.2V428.2M325.98 426.2V428.2M326.98 426.2V428.2M327.83 426.2V428.2M328.57 426.2V428.2M329.22 426.2V428.2M333.62 426.2V428.2M335.86 426.2V428.2M337.45 426.2V428.2M338.68 426.2V428.2M339.68 426.2V428.2M340.53 426.2V428.2M341.27 426.2V428.2M341.92 426.2V428.2" stroke="#1a1a1a" stroke-width="0.85" fill="none"/>
<ellipse cx="318.6" cy="435.5" rx="2.2" ry="1.38" fill="none" stroke="#474747" stroke-width="0.75"/><path d="M316.5 439.2H320.5" stroke="#474747" stroke-width="0.9"/><path d="M316.5 439.2l0.9 0.9" stroke="#474747" stroke-width="0.7"/><text x="316.9" y="433.3" font-size="4.2" fill="#474747" stroke="#474747" stroke-width="0.25" transform="rotate(-90 316.9 433.3)">5</text>
<ellipse cx="331.3" cy="435.5" rx="2.2" ry="1.38" fill="none" stroke="#474747" stroke-width="0.75"/><path d="M329.2 439.2H333.2" stroke="#474747" stroke-width="0.9"/><path d="M329.2 439.2l0.9 0.9" stroke="#474747" stroke-width="0.7"/><text x="329.6" y="433.3" font-size="4.2" fill="#474747" stroke="#474747" stroke-width="0.25" transform="rotate(-90 329.6 433.3)">6</text>
<ellipse cx="344" cy="435.5" rx="2.2" ry="1.38" fill="none" stroke="#474747" stroke-width="0.75"/><path d="M341.9 439.2H345.9" stroke="#474747" stroke-width="0.9"/><path d="M341.9 439.2l0.9 0.9" stroke="#474747" stroke-width="0.7"/><text x="342.3" y="433.3" font-size="4.2" fill="#474747" stroke="#474747" stroke-width="0.25" transform="rotate(-90 342.3 433.3)">7</text>
<line x1="354" y1="426.2" x2="383.7" y2="426.2" stroke="#1a1a1a" stroke-width="1.5"/>
<path d="M354 426.2V429M368.85 426.2V429M383.7 426.2V429M358.47 426.2V428.2M361.09 426.2V428.2M362.94 426.2V428.2M364.38 426.2V428.2M365.56 426.2V428.2M366.55 426.2V428.2M367.41 426.2V428.2M368.17 426.2V428.2M373.32 426.2V428.2M375.94 426.2V428.2M377.79 426.2V428.2M379.23 426.2V428.2M380.41 426.2V428.2M381.4 426.2V428.2M382.26 426.2V428.2M383.02 426.2V428.2" stroke="#1a1a1a" stroke-width="0.85" fill="none"/>
<ellipse cx="355.5" cy="435.5" rx="2.2" ry="1.38" fill="none" stroke="#474747" stroke-width="0.75"/><path d="M353.4 439.2H357.4" stroke="#474747" stroke-width="0.9"/><path d="M353.4 439.2l0.9 0.9" stroke="#474747" stroke-width="0.7"/><text x="353.8" y="433.3" font-size="4.2" fill="#474747" stroke="#474747" stroke-width="0.25" transform="rotate(-90 353.8 433.3)">5</text>
<ellipse cx="370.35" cy="435.5" rx="2.2" ry="1.38" fill="none" stroke="#474747" stroke-width="0.75"/><path d="M368.25 439.2H372.25" stroke="#474747" stroke-width="0.9"/><path d="M368.25 439.2l0.9 0.9" stroke="#474747" stroke-width="0.7"/><text x="368.65" y="433.3" font-size="4.2" fill="#474747" stroke="#474747" stroke-width="0.25" transform="rotate(-90 368.65 433.3)">6</text>
<ellipse cx="385.2" cy="435.5" rx="2.2" ry="1.38" fill="none" stroke="#474747" stroke-width="0.75"/><path d="M383.1 439.2H387.1" stroke="#474747" stroke-width="0.9"/><path d="M383.1 439.2l0.9 0.9" stroke="#474747" stroke-width="0.7"/><text x="383.5" y="433.3" font-size="4.2" fill="#474747" stroke="#474747" stroke-width="0.25" transform="rotate(-90 383.5 433.3)">7</text>
<line x1="394" y1="426.2" x2="425.8" y2="426.2" stroke="#1a1a1a" stroke-width="1.5"/>
<path d="M394 426.2V429M404.6 426.2V429M415.2 426.2V429M425.8 426.2V429M397.19 426.2V428.2M399.06 426.2V428.2M400.38 426.2V428.2M401.41 426.2V428.2M402.25 426.2V428.2M402.96 426.2V428.2M403.57 426.2V428.2M404.11 426.2V428.2M407.79 426.2V428.2M409.66 426.2V428.2M410.98 426.2V428.2M412.01 426.2V428.2M412.85 426.2V428.2M413.56 426.2V428.2M414.17 426.2V428.2M414.71 426.2V428.2M418.39 426.2V428.2M420.26 426.2V428.2M421.58 426.2V428.2M422.61 426.2V428.2M423.45 426.2V428.2M424.16 426.2V428.2M424.77 426.2V428.2M425.31 426.2V428.2" stroke="#1a1a1a" stroke-width="0.85" fill="none"/>
<ellipse cx="395.5" cy="435.5" rx="2.2" ry="1.38" fill="none" stroke="#474747" stroke-width="0.75"/><path d="M393.4 439.2H397.4" stroke="#474747" stroke-width="0.9"/><path d="M393.4 439.2l0.9 0.9" stroke="#474747" stroke-width="0.7"/><text x="393.8" y="433.3" font-size="4.2" fill="#474747" stroke="#474747" stroke-width="0.25" transform="rotate(-90 393.8 433.3)">4</text>
<ellipse cx="406.1" cy="435.5" rx="2.2" ry="1.38" fill="none" stroke="#474747" stroke-width="0.75"/><path d="M404 439.2H408" stroke="#474747" stroke-width="0.9"/><path d="M404 439.2l0.9 0.9" stroke="#474747" stroke-width="0.7"/><text x="404.4" y="433.3" font-size="4.2" fill="#474747" stroke="#474747" stroke-width="0.25" transform="rotate(-90 404.4 433.3)">5</text>
<ellipse cx="416.7" cy="435.5" rx="2.2" ry="1.38" fill="none" stroke="#474747" stroke-width="0.75"/><path d="M414.6 439.2H418.6" stroke="#474747" stroke-width="0.9"/><path d="M414.6 439.2l0.9 0.9" stroke="#474747" stroke-width="0.7"/><text x="415" y="433.3" font-size="4.2" fill="#474747" stroke="#474747" stroke-width="0.25" transform="rotate(-90 415 433.3)">6</text>
<ellipse cx="427.3" cy="435.5" rx="2.2" ry="1.38" fill="none" stroke="#474747" stroke-width="0.75"/><path d="M425.2 439.2H429.2" stroke="#474747" stroke-width="0.9"/><path d="M425.2 439.2l0.9 0.9" stroke="#474747" stroke-width="0.7"/><text x="425.6" y="433.3" font-size="4.2" fill="#474747" stroke="#474747" stroke-width="0.25" transform="rotate(-90 425.6 433.3)">7</text>
<line x1="433.8" y1="426.2" x2="470.2" y2="426.2" stroke="#1a1a1a" stroke-width="1.5"/>
<path d="M433.8 426.2V429M445.93 426.2V429M458.07 426.2V429M470.2 426.2V429M437.45 426.2V428.2M439.59 426.2V428.2M441.1 426.2V428.2M442.28 426.2V428.2M443.24 426.2V428.2M444.05 426.2V428.2M444.76 426.2V428.2M445.38 426.2V428.2M449.59 426.2V428.2M451.72 426.2V428.2M453.24 426.2V428.2M454.41 426.2V428.2M455.37 426.2V428.2M456.19 426.2V428.2M456.89 426.2V428.2M457.51 426.2V428.2M461.72 426.2V428.2M463.86 426.2V428.2M465.37 426.2V428.2M466.55 426.2V428.2M467.51 426.2V428.2M468.32 426.2V428.2M469.02 426.2V428.2M469.64 426.2V428.2" stroke="#1a1a1a" stroke-width="0.85" fill="none"/>
<ellipse cx="435.3" cy="435.5" rx="2.2" ry="1.38" fill="none" stroke="#474747" stroke-width="0.75"/><path d="M433.2 439.2H437.2" stroke="#474747" stroke-width="0.9"/><path d="M433.2 439.2l0.9 0.9" stroke="#474747" stroke-width="0.7"/><text x="433.6" y="433.3" font-size="4.2" fill="#474747" stroke="#474747" stroke-width="0.25" transform="rotate(-90 433.6 433.3)">4</text>
<ellipse cx="447.43" cy="435.5" rx="2.2" ry="1.38" fill="none" stroke="#474747" stroke-width="0.75"/><path d="M445.33 439.2H449.33" stroke="#474747" stroke-width="0.9"/><path d="M445.33 439.2l0.9 0.9" stroke="#474747" stroke-width="0.7"/><text x="445.73" y="433.3" font-size="4.2" fill="#474747" stroke="#474747" stroke-width="0.25" transform="rotate(-90 445.73 433.3)">5</text>
<ellipse cx="459.57" cy="435.5" rx="2.2" ry="1.38" fill="none" stroke="#474747" stroke-width="0.75"/><path d="M457.47 439.2H461.47" stroke="#474747" stroke-width="0.9"/><path d="M457.47 439.2l0.9 0.9" stroke="#474747" stroke-width="0.7"/><text x="457.87" y="433.3" font-size="4.2" fill="#474747" stroke="#474747" stroke-width="0.25" transform="rotate(-90 457.87 433.3)">6</text>
<ellipse cx="471.7" cy="435.5" rx="2.2" ry="1.38" fill="none" stroke="#474747" stroke-width="0.75"/><path d="M469.6 439.2H473.6" stroke="#474747" stroke-width="0.9"/><path d="M469.6 439.2l0.9 0.9" stroke="#474747" stroke-width="0.7"/><text x="470" y="433.3" font-size="4.2" fill="#474747" stroke="#474747" stroke-width="0.25" transform="rotate(-90 470 433.3)">7</text>
<line x1="474.8" y1="426.2" x2="506.5" y2="426.2" stroke="#1a1a1a" stroke-width="1.5"/>
<path d="M474.8 426.2V429M485.37 426.2V429M495.93 426.2V429M506.5 426.2V429M477.98 426.2V428.2M479.84 426.2V428.2M481.16 426.2V428.2M482.19 426.2V428.2M483.02 426.2V428.2M483.73 426.2V428.2M484.34 426.2V428.2M484.88 426.2V428.2M488.55 426.2V428.2M490.41 426.2V428.2M491.73 426.2V428.2M492.75 426.2V428.2M493.59 426.2V428.2M494.3 426.2V428.2M494.91 426.2V428.2M495.45 426.2V428.2M499.11 426.2V428.2M500.97 426.2V428.2M502.3 426.2V428.2M503.32 426.2V428.2M504.16 426.2V428.2M504.86 426.2V428.2M505.48 426.2V428.2M506.02 426.2V428.2" stroke="#1a1a1a" stroke-width="0.85" fill="none"/>
<ellipse cx="476.3" cy="435.5" rx="2.2" ry="1.38" fill="none" stroke="#474747" stroke-width="0.75"/><path d="M474.2 439.2H478.2" stroke="#474747" stroke-width="0.9"/><path d="M474.2 439.2l0.9 0.9" stroke="#474747" stroke-width="0.7"/><text x="474.6" y="433.3" font-size="4.2" fill="#474747" stroke="#474747" stroke-width="0.25" transform="rotate(-90 474.6 433.3)">4</text>
<ellipse cx="486.87" cy="435.5" rx="2.2" ry="1.38" fill="none" stroke="#474747" stroke-width="0.75"/><path d="M484.77 439.2H488.77" stroke="#474747" stroke-width="0.9"/><path d="M484.77 439.2l0.9 0.9" stroke="#474747" stroke-width="0.7"/><text x="485.17" y="433.3" font-size="4.2" fill="#474747" stroke="#474747" stroke-width="0.25" transform="rotate(-90 485.17 433.3)">5</text>
<ellipse cx="497.43" cy="435.5" rx="2.2" ry="1.38" fill="none" stroke="#474747" stroke-width="0.75"/><path d="M495.33 439.2H499.33" stroke="#474747" stroke-width="0.9"/><path d="M495.33 439.2l0.9 0.9" stroke="#474747" stroke-width="0.7"/><text x="495.73" y="433.3" font-size="4.2" fill="#474747" stroke="#474747" stroke-width="0.25" transform="rotate(-90 495.73 433.3)">6</text>
<ellipse cx="508" cy="435.5" rx="2.2" ry="1.38" fill="none" stroke="#474747" stroke-width="0.75"/><path d="M505.9 439.2H509.9" stroke="#474747" stroke-width="0.9"/><path d="M505.9 439.2l0.9 0.9" stroke="#474747" stroke-width="0.7"/><text x="506.3" y="433.3" font-size="4.2" fill="#474747" stroke="#474747" stroke-width="0.25" transform="rotate(-90 506.3 433.3)">7</text>
<text x="329.55" y="453.4" font-size="8.2" text-anchor="middle" font-weight="normal" fill="#1a1a1a" textLength="21.6" lengthAdjust="spacingAndGlyphs" stroke="#1a1a1a" stroke-width="0.2">Unsorted</text>
<text x="369.1" y="453.4" font-size="8.2" text-anchor="middle" font-weight="normal" fill="#1a1a1a" textLength="33.5" lengthAdjust="spacingAndGlyphs" stroke="#1a1a1a" stroke-width="0.24">CD34<tspan font-size="5.0" dy="-2.9">+</tspan><tspan dy="2.9"> / CD57</tspan><tspan font-size="5.0" dy="-2.9">+</tspan></text>
<text x="410.35" y="453.4" font-size="8.2" text-anchor="middle" font-weight="normal" fill="#1a1a1a" textLength="33.5" lengthAdjust="spacingAndGlyphs" stroke="#1a1a1a" stroke-width="0.24">CD34<tspan font-size="5.0" dy="-2.9">+</tspan><tspan dy="2.9"> / CD57</tspan><tspan font-size="5.0" dy="-2.9">−</tspan></text>
<text x="451.6" y="453.4" font-size="8.2" text-anchor="middle" font-weight="normal" fill="#1a1a1a" textLength="33.5" lengthAdjust="spacingAndGlyphs" stroke="#1a1a1a" stroke-width="0.24">CD34<tspan font-size="5.0" dy="-2.9">−</tspan><tspan dy="2.9"> / CD57</tspan><tspan font-size="5.0" dy="-2.9">+</tspan></text>
<text x="490.6" y="453.4" font-size="8.2" text-anchor="middle" font-weight="normal" fill="#1a1a1a" textLength="32.5" lengthAdjust="spacingAndGlyphs" stroke="#1a1a1a" stroke-width="0.24">CD34<tspan font-size="5.0" dy="-2.9">−</tspan><tspan dy="2.9"> / CD57</tspan><tspan font-size="5.0" dy="-2.9">−</tspan></text>
<circle cx="325.8" cy="367" r="2" fill="#9f95e2"/><path d="M323.5 367L328.1 367M324.17 365.37L327.43 368.63M325.8 364.7L325.8 369.3M327.43 365.37L324.17 368.63" stroke="#9f95e2" stroke-width="0.7" fill="none" opacity="0.7"/>
<circle cx="325.8" cy="375.8" r="2" fill="#9f95e2"/><path d="M323.5 375.8L328.1 375.8M324.17 374.17L327.43 377.43M325.8 373.5L325.8 378.1M327.43 374.17L324.17 377.43" stroke="#9f95e2" stroke-width="0.7" fill="none" opacity="0.7"/>
<circle cx="325.8" cy="379.7" r="2" fill="#9f95e2"/><path d="M323.5 379.7L328.1 379.7M324.17 378.07L327.43 381.33M325.8 377.4L325.8 382M327.43 378.07L324.17 381.33" stroke="#9f95e2" stroke-width="0.7" fill="none" opacity="0.7"/>
<circle cx="333.4" cy="342.8" r="2" fill="#9f95e2"/><path d="M331.1 342.8L335.7 342.8M331.77 341.17L335.03 344.43M333.4 340.5L333.4 345.1M335.03 341.17L331.77 344.43" stroke="#9f95e2" stroke-width="0.7" fill="none" opacity="0.7"/>
<circle cx="382.6" cy="418.5" r="2" fill="#9f95e2"/><path d="M380.3 418.5L384.9 418.5M380.97 416.87L384.23 420.13M382.6 416.2L382.6 420.8M384.23 416.87L380.97 420.13" stroke="#9f95e2" stroke-width="0.7" fill="none" opacity="0.7"/>
<circle cx="462.4" cy="410.7" r="2" fill="#9f95e2"/><path d="M460.1 410.7L464.7 410.7M460.77 409.07L464.03 412.33M462.4 408.4L462.4 413M464.03 409.07L460.77 412.33" stroke="#9f95e2" stroke-width="0.7" fill="none" opacity="0.7"/>
<circle cx="496.6" cy="411.5" r="2" fill="#9f95e2"/><path d="M494.3 411.5L498.9 411.5M494.97 409.87L498.23 413.13M496.6 409.2L496.6 413.8M498.23 409.87L494.97 413.13" stroke="#9f95e2" stroke-width="0.7" fill="none" opacity="0.7"/>
<circle cx="338.5" cy="381.9" r="2.35" fill="#3b4a62"/>
<circle cx="362.7" cy="373" r="2.35" fill="#3b4a62"/>
<circle cx="397.5" cy="354.7" r="2.35" fill="#3b4a62"/>
<circle cx="452.7" cy="351.4" r="2.35" fill="#3b4a62"/>
<circle cx="482.6" cy="378.4" r="2.35" fill="#3b4a62"/>
<circle cx="498.7" cy="370" r="2.35" fill="#3b4a62"/>
<circle cx="502.8" cy="357" r="2.35" fill="#3b4a62"/>
<circle cx="338.5" cy="400.7" r="2.35" fill="#0b6a4c"/>
<circle cx="379.1" cy="425.2" r="2.35" fill="#0b6a4c"/>
<circle cx="419" cy="401.8" r="2.35" fill="#0b6a4c"/>
<circle cx="437" cy="425.7" r="2.35" fill="#0b6a4c"/>
<circle cx="493" cy="425.5" r="2.35" fill="#0b6a4c"/>
<line x1="63.3" y1="465.7" x2="63.3" y2="564.6" stroke="#1a1a1a" stroke-width="1.5"/>
<path d="M60.1 562.6H63.3M61.3 560.67H63.3M61.3 558.75H63.3M61.3 556.82H63.3M61.3 554.9H63.3M60.1 552.97H63.3M61.3 551.04H63.3M61.3 549.12H63.3M61.3 547.19H63.3M61.3 545.27H63.3M60.1 543.34H63.3M61.3 541.41H63.3M61.3 539.49H63.3M61.3 537.56H63.3M61.3 535.64H63.3M60.1 533.71H63.3M61.3 531.78H63.3M61.3 529.86H63.3M61.3 527.93H63.3M61.3 526.01H63.3M60.1 524.08H63.3M61.3 522.15H63.3M61.3 520.23H63.3M61.3 518.3H63.3M61.3 516.38H63.3M60.1 514.45H63.3M61.3 512.52H63.3M61.3 510.6H63.3M61.3 508.67H63.3M61.3 506.75H63.3M60.1 504.82H63.3M61.3 502.89H63.3M61.3 500.97H63.3M61.3 499.04H63.3M61.3 497.12H63.3M60.1 495.19H63.3M61.3 493.26H63.3M61.3 491.34H63.3M61.3 489.41H63.3M61.3 487.49H63.3M60.1 485.56H63.3M61.3 483.63H63.3M61.3 481.71H63.3M61.3 479.78H63.3M61.3 477.86H63.3M60.1 475.93H63.3M61.3 474H63.3M61.3 472.08H63.3M61.3 470.15H63.3M61.3 468.23H63.3M60.1 466.3H63.3" stroke="#1a1a1a" stroke-width="0.9" fill="none"/>
<text x="57.3" y="565.35" font-size="7.8" text-anchor="end" font-weight="normal" fill="#1e1e1e" textLength="4.21" lengthAdjust="spacingAndGlyphs" stroke="#1e1e1e" stroke-width="0.14">0</text>
<text x="57.3" y="555.72" font-size="7.8" text-anchor="end" font-weight="normal" fill="#1e1e1e" textLength="8.73" lengthAdjust="spacingAndGlyphs" stroke="#1e1e1e" stroke-width="0.14">10</text>
<text x="57.3" y="546.09" font-size="7.8" text-anchor="end" font-weight="normal" fill="#1e1e1e" textLength="8.73" lengthAdjust="spacingAndGlyphs" stroke="#1e1e1e" stroke-width="0.14">20</text>
<text x="57.3" y="536.46" font-size="7.8" text-anchor="end" font-weight="normal" fill="#1e1e1e" textLength="8.73" lengthAdjust="spacingAndGlyphs" stroke="#1e1e1e" stroke-width="0.14">30</text>
<text x="57.3" y="526.83" font-size="7.8" text-anchor="end" font-weight="normal" fill="#1e1e1e" textLength="8.73" lengthAdjust="spacingAndGlyphs" stroke="#1e1e1e" stroke-width="0.14">40</text>
<text x="57.3" y="517.2" font-size="7.8" text-anchor="end" font-weight="normal" fill="#1e1e1e" textLength="8.73" lengthAdjust="spacingAndGlyphs" stroke="#1e1e1e" stroke-width="0.14">50</text>
<text x="57.3" y="507.57" font-size="7.8" text-anchor="end" font-weight="normal" fill="#1e1e1e" textLength="8.73" lengthAdjust="spacingAndGlyphs" stroke="#1e1e1e" stroke-width="0.14">60</text>
<text x="57.3" y="497.94" font-size="7.8" text-anchor="end" font-weight="normal" fill="#1e1e1e" textLength="8.73" lengthAdjust="spacingAndGlyphs" stroke="#1e1e1e" stroke-width="0.14">70</text>
<text x="57.3" y="488.31" font-size="7.8" text-anchor="end" font-weight="normal" fill="#1e1e1e" textLength="8.73" lengthAdjust="spacingAndGlyphs" stroke="#1e1e1e" stroke-width="0.14">80</text>
<text x="57.3" y="478.68" font-size="7.8" text-anchor="end" font-weight="normal" fill="#1e1e1e" textLength="8.73" lengthAdjust="spacingAndGlyphs" stroke="#1e1e1e" stroke-width="0.14">90</text>
<text x="57.3" y="469.05" font-size="7.8" text-anchor="end" font-weight="normal" fill="#1e1e1e" textLength="13.24" lengthAdjust="spacingAndGlyphs" stroke="#1e1e1e" stroke-width="0.14">100</text>
<line x1="63.3" y1="562.9" x2="88" y2="562.9" stroke="#1a1a1a" stroke-width="1.5"/>
<path d="M63.3 562.9V565.7M88 562.9V565.7M70.74 562.9V564.9M75.08 562.9V564.9M78.17 562.9V564.9M80.56 562.9V564.9M82.52 562.9V564.9M84.17 562.9V564.9M85.61 562.9V564.9M86.87 562.9V564.9" stroke="#1a1a1a" stroke-width="0.85" fill="none"/>
<ellipse cx="64.8" cy="572.2" rx="2.2" ry="1.38" fill="none" stroke="#474747" stroke-width="0.75"/><path d="M62.7 575.9H66.7" stroke="#474747" stroke-width="0.9"/><path d="M62.7 575.9l0.9 0.9" stroke="#474747" stroke-width="0.7"/><text x="63.1" y="570" font-size="4.2" fill="#474747" stroke="#474747" stroke-width="0.25" transform="rotate(-90 63.1 570)">5</text>
<ellipse cx="89.5" cy="572.2" rx="2.2" ry="1.38" fill="none" stroke="#474747" stroke-width="0.75"/><path d="M87.4 575.9H91.4" stroke="#474747" stroke-width="0.9"/><path d="M87.4 575.9l0.9 0.9" stroke="#474747" stroke-width="0.7"/><text x="87.8" y="570" font-size="4.2" fill="#474747" stroke="#474747" stroke-width="0.25" transform="rotate(-90 87.8 570)">6</text>
<line x1="91.8" y1="562.9" x2="124.8" y2="562.9" stroke="#1a1a1a" stroke-width="1.5"/>
<path d="M91.8 562.9V565.7M124.8 562.9V565.7M101.73 562.9V564.9M107.55 562.9V564.9M111.67 562.9V564.9M114.87 562.9V564.9M117.48 562.9V564.9M119.69 562.9V564.9M121.6 562.9V564.9M123.29 562.9V564.9" stroke="#1a1a1a" stroke-width="0.85" fill="none"/>
<ellipse cx="93.3" cy="572.2" rx="2.2" ry="1.38" fill="none" stroke="#474747" stroke-width="0.75"/><path d="M91.2 575.9H95.2" stroke="#474747" stroke-width="0.9"/><path d="M91.2 575.9l0.9 0.9" stroke="#474747" stroke-width="0.7"/><text x="91.6" y="570" font-size="4.2" fill="#474747" stroke="#474747" stroke-width="0.25" transform="rotate(-90 91.6 570)">6</text>
<ellipse cx="126.3" cy="572.2" rx="2.2" ry="1.38" fill="none" stroke="#474747" stroke-width="0.75"/><path d="M124.2 575.9H128.2" stroke="#474747" stroke-width="0.9"/><path d="M124.2 575.9l0.9 0.9" stroke="#474747" stroke-width="0.7"/><text x="124.6" y="570" font-size="4.2" fill="#474747" stroke="#474747" stroke-width="0.25" transform="rotate(-90 124.6 570)">7</text>
<line x1="132.5" y1="562.9" x2="165.6" y2="562.9" stroke="#1a1a1a" stroke-width="1.5"/>
<path d="M132.5 562.9V565.7M143.53 562.9V565.7M154.57 562.9V565.7M165.6 562.9V565.7M135.82 562.9V564.9M137.76 562.9V564.9M139.14 562.9V564.9M140.21 562.9V564.9M141.09 562.9V564.9M141.82 562.9V564.9M142.46 562.9V564.9M143.03 562.9V564.9M146.85 562.9V564.9M148.8 562.9V564.9M150.18 562.9V564.9M151.25 562.9V564.9M152.12 562.9V564.9M152.86 562.9V564.9M153.5 562.9V564.9M154.06 562.9V564.9M157.89 562.9V564.9M159.83 562.9V564.9M161.21 562.9V564.9M162.28 562.9V564.9M163.15 562.9V564.9M163.89 562.9V564.9M164.53 562.9V564.9M165.1 562.9V564.9" stroke="#1a1a1a" stroke-width="0.85" fill="none"/>
<ellipse cx="134" cy="572.2" rx="2.2" ry="1.38" fill="none" stroke="#474747" stroke-width="0.75"/><path d="M131.9 575.9H135.9" stroke="#474747" stroke-width="0.9"/><path d="M131.9 575.9l0.9 0.9" stroke="#474747" stroke-width="0.7"/><text x="132.3" y="570" font-size="4.2" fill="#474747" stroke="#474747" stroke-width="0.25" transform="rotate(-90 132.3 570)">4</text>
<ellipse cx="145.03" cy="572.2" rx="2.2" ry="1.38" fill="none" stroke="#474747" stroke-width="0.75"/><path d="M142.93 575.9H146.93" stroke="#474747" stroke-width="0.9"/><path d="M142.93 575.9l0.9 0.9" stroke="#474747" stroke-width="0.7"/><text x="143.33" y="570" font-size="4.2" fill="#474747" stroke="#474747" stroke-width="0.25" transform="rotate(-90 143.33 570)">5</text>
<ellipse cx="156.07" cy="572.2" rx="2.2" ry="1.38" fill="none" stroke="#474747" stroke-width="0.75"/><path d="M153.97 575.9H157.97" stroke="#474747" stroke-width="0.9"/><path d="M153.97 575.9l0.9 0.9" stroke="#474747" stroke-width="0.7"/><text x="154.37" y="570" font-size="4.2" fill="#474747" stroke="#474747" stroke-width="0.25" transform="rotate(-90 154.37 570)">6</text>
<ellipse cx="167.1" cy="572.2" rx="2.2" ry="1.38" fill="none" stroke="#474747" stroke-width="0.75"/><path d="M165 575.9H169" stroke="#474747" stroke-width="0.9"/><path d="M165 575.9l0.9 0.9" stroke="#474747" stroke-width="0.7"/><text x="165.4" y="570" font-size="4.2" fill="#474747" stroke="#474747" stroke-width="0.25" transform="rotate(-90 165.4 570)">7</text>
<line x1="175.8" y1="562.9" x2="209.5" y2="562.9" stroke="#1a1a1a" stroke-width="1.5"/>
<path d="M175.8 562.9V565.7M192.65 562.9V565.7M209.5 562.9V565.7M180.87 562.9V564.9M183.84 562.9V564.9M185.94 562.9V564.9M187.58 562.9V564.9M188.91 562.9V564.9M190.04 562.9V564.9M191.02 562.9V564.9M191.88 562.9V564.9M197.72 562.9V564.9M200.69 562.9V564.9M202.79 562.9V564.9M204.43 562.9V564.9M205.76 562.9V564.9M206.89 562.9V564.9M207.87 562.9V564.9M208.73 562.9V564.9" stroke="#1a1a1a" stroke-width="0.85" fill="none"/>
<ellipse cx="177.3" cy="572.2" rx="2.2" ry="1.38" fill="none" stroke="#474747" stroke-width="0.75"/><path d="M175.2 575.9H179.2" stroke="#474747" stroke-width="0.9"/><path d="M175.2 575.9l0.9 0.9" stroke="#474747" stroke-width="0.7"/><text x="175.6" y="570" font-size="4.2" fill="#474747" stroke="#474747" stroke-width="0.25" transform="rotate(-90 175.6 570)">5</text>
<ellipse cx="194.15" cy="572.2" rx="2.2" ry="1.38" fill="none" stroke="#474747" stroke-width="0.75"/><path d="M192.05 575.9H196.05" stroke="#474747" stroke-width="0.9"/><path d="M192.05 575.9l0.9 0.9" stroke="#474747" stroke-width="0.7"/><text x="192.45" y="570" font-size="4.2" fill="#474747" stroke="#474747" stroke-width="0.25" transform="rotate(-90 192.45 570)">6</text>
<ellipse cx="211" cy="572.2" rx="2.2" ry="1.38" fill="none" stroke="#474747" stroke-width="0.75"/><path d="M208.9 575.9H212.9" stroke="#474747" stroke-width="0.9"/><path d="M208.9 575.9l0.9 0.9" stroke="#474747" stroke-width="0.7"/><text x="209.3" y="570" font-size="4.2" fill="#474747" stroke="#474747" stroke-width="0.25" transform="rotate(-90 209.3 570)">7</text>
<line x1="218.2" y1="562.9" x2="251.3" y2="562.9" stroke="#1a1a1a" stroke-width="1.5"/>
<path d="M218.2 562.9V565.7M251.3 562.9V565.7M228.16 562.9V564.9M233.99 562.9V564.9M238.13 562.9V564.9M241.34 562.9V564.9M243.96 562.9V564.9M246.17 562.9V564.9M248.09 562.9V564.9M249.79 562.9V564.9" stroke="#1a1a1a" stroke-width="0.85" fill="none"/>
<ellipse cx="219.7" cy="572.2" rx="2.2" ry="1.38" fill="none" stroke="#474747" stroke-width="0.75"/><path d="M217.6 575.9H221.6" stroke="#474747" stroke-width="0.9"/><path d="M217.6 575.9l0.9 0.9" stroke="#474747" stroke-width="0.7"/><text x="218" y="570" font-size="4.2" fill="#474747" stroke="#474747" stroke-width="0.25" transform="rotate(-90 218 570)">6</text>
<ellipse cx="252.8" cy="572.2" rx="2.2" ry="1.38" fill="none" stroke="#474747" stroke-width="0.75"/><path d="M250.7 575.9H254.7" stroke="#474747" stroke-width="0.9"/><path d="M250.7 575.9l0.9 0.9" stroke="#474747" stroke-width="0.7"/><text x="251.1" y="570" font-size="4.2" fill="#474747" stroke="#474747" stroke-width="0.25" transform="rotate(-90 251.1 570)">7</text>
<text x="75.35" y="589.6" font-size="8.2" text-anchor="middle" font-weight="normal" fill="#1a1a1a" textLength="21.6" lengthAdjust="spacingAndGlyphs" stroke="#1a1a1a" stroke-width="0.2">Unsorted</text>
<text x="108.7" y="589.6" font-size="8.2" text-anchor="middle" font-weight="normal" fill="#1a1a1a" textLength="33.5" lengthAdjust="spacingAndGlyphs" stroke="#1a1a1a" stroke-width="0.24">CD34<tspan font-size="5.0" dy="-2.9">+</tspan><tspan dy="2.9"> / CD57</tspan><tspan font-size="5.0" dy="-2.9">+</tspan></text>
<text x="148.6" y="589.6" font-size="8.2" text-anchor="middle" font-weight="normal" fill="#1a1a1a" textLength="33.5" lengthAdjust="spacingAndGlyphs" stroke="#1a1a1a" stroke-width="0.24">CD34<tspan font-size="5.0" dy="-2.9">+</tspan><tspan dy="2.9"> / CD57</tspan><tspan font-size="5.0" dy="-2.9">−</tspan></text>
<text x="192.55" y="589.6" font-size="8.2" text-anchor="middle" font-weight="normal" fill="#1a1a1a" textLength="33.5" lengthAdjust="spacingAndGlyphs" stroke="#1a1a1a" stroke-width="0.24">CD34<tspan font-size="5.0" dy="-2.9">−</tspan><tspan dy="2.9"> / CD57</tspan><tspan font-size="5.0" dy="-2.9">+</tspan></text>
<text x="234.8" y="589.6" font-size="8.2" text-anchor="middle" font-weight="normal" fill="#1a1a1a" textLength="32.5" lengthAdjust="spacingAndGlyphs" stroke="#1a1a1a" stroke-width="0.24">CD34<tspan font-size="5.0" dy="-2.9">−</tspan><tspan dy="2.9"> / CD57</tspan><tspan font-size="5.0" dy="-2.9">−</tspan></text>
<path d="M73.8 490.08L76.4 494.48L71.2 494.48Z" fill="#ff8c00"/>
<path d="M153.8 523.98L156.4 528.38L151.2 528.38Z" fill="#ff8c00"/>
<path d="M179.5 496.08L182.1 500.48L176.9 500.48Z" fill="#ff8c00"/>
<path d="M248.2 532.98L250.8 537.38L245.6 537.38Z" fill="#ff8c00"/>
<path d="M137.4 502.9L139.9 505.4L137.4 507.9L134.9 505.4Z" fill="#4b0f6e"/>
<path d="M203.2 506.6L205.7 509.1L203.2 511.6L200.7 509.1Z" fill="#4b0f6e"/>
<line x1="317.9" y1="462.9" x2="317.9" y2="563.8" stroke="#1a1a1a" stroke-width="1.5"/>
<path d="M314.7 561.8H317.9M315.9 559.83H317.9M315.9 557.87H317.9M315.9 555.9H317.9M315.9 553.94H317.9M314.7 551.97H317.9M315.9 550H317.9M315.9 548.04H317.9M315.9 546.07H317.9M315.9 544.11H317.9M314.7 542.14H317.9M315.9 540.17H317.9M315.9 538.21H317.9M315.9 536.24H317.9M315.9 534.28H317.9M314.7 532.31H317.9M315.9 530.34H317.9M315.9 528.38H317.9M315.9 526.41H317.9M315.9 524.45H317.9M314.7 522.48H317.9M315.9 520.51H317.9M315.9 518.55H317.9M315.9 516.58H317.9M315.9 514.62H317.9M314.7 512.65H317.9M315.9 510.68H317.9M315.9 508.72H317.9M315.9 506.75H317.9M315.9 504.79H317.9M314.7 502.82H317.9M315.9 500.85H317.9M315.9 498.89H317.9M315.9 496.92H317.9M315.9 494.96H317.9M314.7 492.99H317.9M315.9 491.02H317.9M315.9 489.06H317.9M315.9 487.09H317.9M315.9 485.13H317.9M314.7 483.16H317.9M315.9 481.19H317.9M315.9 479.23H317.9M315.9 477.26H317.9M315.9 475.3H317.9M314.7 473.33H317.9M315.9 471.36H317.9M315.9 469.4H317.9M315.9 467.43H317.9M315.9 465.47H317.9M314.7 463.5H317.9" stroke="#1a1a1a" stroke-width="0.9" fill="none"/>
<text x="311.9" y="564.55" font-size="7.8" text-anchor="end" font-weight="normal" fill="#1e1e1e" textLength="4.21" lengthAdjust="spacingAndGlyphs" stroke="#1e1e1e" stroke-width="0.14">0</text>
<text x="311.9" y="554.72" font-size="7.8" text-anchor="end" font-weight="normal" fill="#1e1e1e" textLength="8.73" lengthAdjust="spacingAndGlyphs" stroke="#1e1e1e" stroke-width="0.14">10</text>
<text x="311.9" y="544.89" font-size="7.8" text-anchor="end" font-weight="normal" fill="#1e1e1e" textLength="8.73" lengthAdjust="spacingAndGlyphs" stroke="#1e1e1e" stroke-width="0.14">20</text>
<text x="311.9" y="535.06" font-size="7.8" text-anchor="end" font-weight="normal" fill="#1e1e1e" textLength="8.73" lengthAdjust="spacingAndGlyphs" stroke="#1e1e1e" stroke-width="0.14">30</text>
<text x="311.9" y="525.23" font-size="7.8" text-anchor="end" font-weight="normal" fill="#1e1e1e" textLength="8.73" lengthAdjust="spacingAndGlyphs" stroke="#1e1e1e" stroke-width="0.14">40</text>
<text x="311.9" y="515.4" font-size="7.8" text-anchor="end" font-weight="normal" fill="#1e1e1e" textLength="8.73" lengthAdjust="spacingAndGlyphs" stroke="#1e1e1e" stroke-width="0.14">50</text>
<text x="311.9" y="505.57" font-size="7.8" text-anchor="end" font-weight="normal" fill="#1e1e1e" textLength="8.73" lengthAdjust="spacingAndGlyphs" stroke="#1e1e1e" stroke-width="0.14">60</text>
<text x="311.9" y="495.74" font-size="7.8" text-anchor="end" font-weight="normal" fill="#1e1e1e" textLength="8.73" lengthAdjust="spacingAndGlyphs" stroke="#1e1e1e" stroke-width="0.14">70</text>
<text x="311.9" y="485.91" font-size="7.8" text-anchor="end" font-weight="normal" fill="#1e1e1e" textLength="8.73" lengthAdjust="spacingAndGlyphs" stroke="#1e1e1e" stroke-width="0.14">80</text>
<text x="311.9" y="476.08" font-size="7.8" text-anchor="end" font-weight="normal" fill="#1e1e1e" textLength="8.73" lengthAdjust="spacingAndGlyphs" stroke="#1e1e1e" stroke-width="0.14">90</text>
<text x="311.9" y="466.25" font-size="7.8" text-anchor="end" font-weight="normal" fill="#1e1e1e" textLength="13.24" lengthAdjust="spacingAndGlyphs" stroke="#1e1e1e" stroke-width="0.14">100</text>
<line x1="317.9" y1="562.1" x2="343.9" y2="562.1" stroke="#1a1a1a" stroke-width="1.5"/>
<path d="M317.9 562.1V564.9M343.9 562.1V564.9M325.73 562.1V564.1M330.31 562.1V564.1M333.55 562.1V564.1M336.07 562.1V564.1M338.13 562.1V564.1M339.87 562.1V564.1M341.38 562.1V564.1M342.71 562.1V564.1" stroke="#1a1a1a" stroke-width="0.85" fill="none"/>
<ellipse cx="319.4" cy="571.4" rx="2.2" ry="1.38" fill="none" stroke="#474747" stroke-width="0.75"/><path d="M317.3 575.1H321.3" stroke="#474747" stroke-width="0.9"/><path d="M317.3 575.1l0.9 0.9" stroke="#474747" stroke-width="0.7"/><text x="317.7" y="569.2" font-size="4.2" fill="#474747" stroke="#474747" stroke-width="0.25" transform="rotate(-90 317.7 569.2)">5</text>
<ellipse cx="345.4" cy="571.4" rx="2.2" ry="1.38" fill="none" stroke="#474747" stroke-width="0.75"/><path d="M343.3 575.1H347.3" stroke="#474747" stroke-width="0.9"/><path d="M343.3 575.1l0.9 0.9" stroke="#474747" stroke-width="0.7"/><text x="343.7" y="569.2" font-size="4.2" fill="#474747" stroke="#474747" stroke-width="0.25" transform="rotate(-90 343.7 569.2)">6</text>
<line x1="352.5" y1="562.1" x2="386.1" y2="562.1" stroke="#1a1a1a" stroke-width="1.5"/>
<path d="M352.5 562.1V564.9M386.1 562.1V564.9M362.61 562.1V564.1M368.53 562.1V564.1M372.73 562.1V564.1M375.99 562.1V564.1M378.65 562.1V564.1M380.9 562.1V564.1M382.84 562.1V564.1M384.56 562.1V564.1" stroke="#1a1a1a" stroke-width="0.85" fill="none"/>
<ellipse cx="354" cy="571.4" rx="2.2" ry="1.38" fill="none" stroke="#474747" stroke-width="0.75"/><path d="M351.9 575.1H355.9" stroke="#474747" stroke-width="0.9"/><path d="M351.9 575.1l0.9 0.9" stroke="#474747" stroke-width="0.7"/><text x="352.3" y="569.2" font-size="4.2" fill="#474747" stroke="#474747" stroke-width="0.25" transform="rotate(-90 352.3 569.2)">6</text>
<ellipse cx="387.6" cy="571.4" rx="2.2" ry="1.38" fill="none" stroke="#474747" stroke-width="0.75"/><path d="M385.5 575.1H389.5" stroke="#474747" stroke-width="0.9"/><path d="M385.5 575.1l0.9 0.9" stroke="#474747" stroke-width="0.7"/><text x="385.9" y="569.2" font-size="4.2" fill="#474747" stroke="#474747" stroke-width="0.25" transform="rotate(-90 385.9 569.2)">7</text>
<line x1="393.5" y1="562.1" x2="426.3" y2="562.1" stroke="#1a1a1a" stroke-width="1.5"/>
<path d="M393.5 562.1V564.9M426.3 562.1V564.9M403.37 562.1V564.1M409.15 562.1V564.1M413.25 562.1V564.1M416.43 562.1V564.1M419.02 562.1V564.1M421.22 562.1V564.1M423.12 562.1V564.1M424.8 562.1V564.1" stroke="#1a1a1a" stroke-width="0.85" fill="none"/>
<ellipse cx="395" cy="571.4" rx="2.2" ry="1.38" fill="none" stroke="#474747" stroke-width="0.75"/><path d="M392.9 575.1H396.9" stroke="#474747" stroke-width="0.9"/><path d="M392.9 575.1l0.9 0.9" stroke="#474747" stroke-width="0.7"/><text x="393.3" y="569.2" font-size="4.2" fill="#474747" stroke="#474747" stroke-width="0.25" transform="rotate(-90 393.3 569.2)">6</text>
<ellipse cx="427.8" cy="571.4" rx="2.2" ry="1.38" fill="none" stroke="#474747" stroke-width="0.75"/><path d="M425.7 575.1H429.7" stroke="#474747" stroke-width="0.9"/><path d="M425.7 575.1l0.9 0.9" stroke="#474747" stroke-width="0.7"/><text x="426.1" y="569.2" font-size="4.2" fill="#474747" stroke="#474747" stroke-width="0.25" transform="rotate(-90 426.1 569.2)">7</text>
<line x1="432.5" y1="562.1" x2="464.8" y2="562.1" stroke="#1a1a1a" stroke-width="1.5"/>
<path d="M432.5 562.1V564.9M464.8 562.1V564.9M442.22 562.1V564.1M447.91 562.1V564.1M451.95 562.1V564.1M455.08 562.1V564.1M457.63 562.1V564.1M459.8 562.1V564.1M461.67 562.1V564.1M463.32 562.1V564.1" stroke="#1a1a1a" stroke-width="0.85" fill="none"/>
<ellipse cx="434" cy="571.4" rx="2.2" ry="1.38" fill="none" stroke="#474747" stroke-width="0.75"/><path d="M431.9 575.1H435.9" stroke="#474747" stroke-width="0.9"/><path d="M431.9 575.1l0.9 0.9" stroke="#474747" stroke-width="0.7"/><text x="432.3" y="569.2" font-size="4.2" fill="#474747" stroke="#474747" stroke-width="0.25" transform="rotate(-90 432.3 569.2)">6</text>
<ellipse cx="466.3" cy="571.4" rx="2.2" ry="1.38" fill="none" stroke="#474747" stroke-width="0.75"/><path d="M464.2 575.1H468.2" stroke="#474747" stroke-width="0.9"/><path d="M464.2 575.1l0.9 0.9" stroke="#474747" stroke-width="0.7"/><text x="464.6" y="569.2" font-size="4.2" fill="#474747" stroke="#474747" stroke-width="0.25" transform="rotate(-90 464.6 569.2)">7</text>
<line x1="473.4" y1="562.1" x2="506.5" y2="562.1" stroke="#1a1a1a" stroke-width="1.5"/>
<path d="M473.4 562.1V564.9M484.43 562.1V564.9M495.47 562.1V564.9M506.5 562.1V564.9M476.72 562.1V564.1M478.66 562.1V564.1M480.04 562.1V564.1M481.11 562.1V564.1M481.99 562.1V564.1M482.72 562.1V564.1M483.36 562.1V564.1M483.93 562.1V564.1M487.75 562.1V564.1M489.7 562.1V564.1M491.08 562.1V564.1M492.15 562.1V564.1M493.02 562.1V564.1M493.76 562.1V564.1M494.4 562.1V564.1M494.96 562.1V564.1M498.79 562.1V564.1M500.73 562.1V564.1M502.11 562.1V564.1M503.18 562.1V564.1M504.05 562.1V564.1M504.79 562.1V564.1M505.43 562.1V564.1M506 562.1V564.1" stroke="#1a1a1a" stroke-width="0.85" fill="none"/>
<ellipse cx="474.9" cy="571.4" rx="2.2" ry="1.38" fill="none" stroke="#474747" stroke-width="0.75"/><path d="M472.8 575.1H476.8" stroke="#474747" stroke-width="0.9"/><path d="M472.8 575.1l0.9 0.9" stroke="#474747" stroke-width="0.7"/><text x="473.2" y="569.2" font-size="4.2" fill="#474747" stroke="#474747" stroke-width="0.25" transform="rotate(-90 473.2 569.2)">4</text>
<ellipse cx="485.93" cy="571.4" rx="2.2" ry="1.38" fill="none" stroke="#474747" stroke-width="0.75"/><path d="M483.83 575.1H487.83" stroke="#474747" stroke-width="0.9"/><path d="M483.83 575.1l0.9 0.9" stroke="#474747" stroke-width="0.7"/><text x="484.23" y="569.2" font-size="4.2" fill="#474747" stroke="#474747" stroke-width="0.25" transform="rotate(-90 484.23 569.2)">5</text>
<ellipse cx="496.97" cy="571.4" rx="2.2" ry="1.38" fill="none" stroke="#474747" stroke-width="0.75"/><path d="M494.87 575.1H498.87" stroke="#474747" stroke-width="0.9"/><path d="M494.87 575.1l0.9 0.9" stroke="#474747" stroke-width="0.7"/><text x="495.27" y="569.2" font-size="4.2" fill="#474747" stroke="#474747" stroke-width="0.25" transform="rotate(-90 495.27 569.2)">6</text>
<ellipse cx="508" cy="571.4" rx="2.2" ry="1.38" fill="none" stroke="#474747" stroke-width="0.75"/><path d="M505.9 575.1H509.9" stroke="#474747" stroke-width="0.9"/><path d="M505.9 575.1l0.9 0.9" stroke="#474747" stroke-width="0.7"/><text x="506.3" y="569.2" font-size="4.2" fill="#474747" stroke="#474747" stroke-width="0.25" transform="rotate(-90 506.3 569.2)">7</text>
<text x="330.2" y="589" font-size="8.2" text-anchor="middle" font-weight="normal" fill="#1a1a1a" textLength="21.6" lengthAdjust="spacingAndGlyphs" stroke="#1a1a1a" stroke-width="0.2">Unsorted</text>
<text x="369.5" y="589" font-size="8.2" text-anchor="middle" font-weight="normal" fill="#1a1a1a" textLength="33.5" lengthAdjust="spacingAndGlyphs" stroke="#1a1a1a" stroke-width="0.24">CD34<tspan font-size="5.0" dy="-2.9">+</tspan><tspan dy="2.9"> / CD57</tspan><tspan font-size="5.0" dy="-2.9">+</tspan></text>
<text x="410" y="589" font-size="8.2" text-anchor="middle" font-weight="normal" fill="#1a1a1a" textLength="33.5" lengthAdjust="spacingAndGlyphs" stroke="#1a1a1a" stroke-width="0.24">CD34<tspan font-size="5.0" dy="-2.9">+</tspan><tspan dy="2.9"> / CD57</tspan><tspan font-size="5.0" dy="-2.9">−</tspan></text>
<text x="448.75" y="589" font-size="8.2" text-anchor="middle" font-weight="normal" fill="#1a1a1a" textLength="33.5" lengthAdjust="spacingAndGlyphs" stroke="#1a1a1a" stroke-width="0.24">CD34<tspan font-size="5.0" dy="-2.9">−</tspan><tspan dy="2.9"> / CD57</tspan><tspan font-size="5.0" dy="-2.9">+</tspan></text>
<text x="490.45" y="589" font-size="8.2" text-anchor="middle" font-weight="normal" fill="#1a1a1a" textLength="32.5" lengthAdjust="spacingAndGlyphs" stroke="#1a1a1a" stroke-width="0.24">CD34<tspan font-size="5.0" dy="-2.9">−</tspan><tspan dy="2.9"> / CD57</tspan><tspan font-size="5.0" dy="-2.9">−</tspan></text>
<circle cx="338.5" cy="523.2" r="2.35" fill="#0b6a4c"/>
<circle cx="353.8" cy="515.2" r="2.35" fill="#3b4a62"/>
<circle cx="420.4" cy="477.5" r="2.35" fill="#3b4a62"/>
<circle cx="438.2" cy="501.2" r="2.35" fill="#3b4a62"/>
<circle cx="474.5" cy="526.7" r="2.35" fill="#3b4a62"/>
<circle cx="493.1" cy="524" r="2.35" fill="#3b4a62"/>
<circle cx="498.5" cy="529.4" r="2.35" fill="#3b4a62"/>
<circle cx="370" cy="493.1" r="2" fill="#9f95e2"/><path d="M367.7 493.1L372.3 493.1M368.37 491.47L371.63 494.73M370 490.8L370 495.4M371.63 491.47L368.37 494.73" stroke="#9f95e2" stroke-width="0.7" fill="none" opacity="0.7"/>
<circle cx="441.7" cy="479.1" r="2" fill="#9f95e2"/><path d="M439.4 479.1L444 479.1M440.07 477.47L443.33 480.73M441.7 476.8L441.7 481.4M443.33 477.47L440.07 480.73" stroke="#9f95e2" stroke-width="0.7" fill="none" opacity="0.7"/>
<circle cx="483.9" cy="479.1" r="2" fill="#9f95e2"/><path d="M481.6 479.1L486.2 479.1M482.27 477.47L485.53 480.73M483.9 476.8L483.9 481.4M485.53 477.47L482.27 480.73" stroke="#9f95e2" stroke-width="0.7" fill="none" opacity="0.7"/>
<text x="56.4" y="607.7" font-size="9.8" text-anchor="start" font-weight="normal" fill="#1a1a1a" textLength="15.2" lengthAdjust="spacingAndGlyphs" stroke="#1a1a1a" stroke-width="0.25">Key:</text>
<polygon points="94.3,604.5 92.3,607.96 88.3,607.96 86.3,604.5 88.3,601.04 92.3,601.04" fill="#d0102c" stroke="#3a0610" stroke-width="1.1"/>
<circle cx="90.3" cy="604.5" r="1.1" fill="#3a0610"/>
<text x="103.5" y="607.2" font-size="8" text-anchor="start" font-weight="normal" fill="#2a2a2a" textLength="14.6" lengthAdjust="spacingAndGlyphs" stroke="#2a2a2a" stroke-width="0.12">Pt. 1</text>
<circle cx="150" cy="604.5" r="3.38" fill="#0b4f8f"/>
<text x="163.2" y="607.2" font-size="8" text-anchor="start" font-weight="normal" fill="#2a2a2a" textLength="14.6" lengthAdjust="spacingAndGlyphs" stroke="#2a2a2a" stroke-width="0.12">Pt. 2</text>
<circle cx="211" cy="604.3" r="3.53" fill="#27b034"/>
<text x="223.7" y="607" font-size="8" text-anchor="start" font-weight="normal" fill="#2a2a2a" textLength="14.6" lengthAdjust="spacingAndGlyphs" stroke="#2a2a2a" stroke-width="0.12">Pt. 3</text>
<path d="M271.2 600.55L274.95 604.3L271.2 608.05L267.45 604.3Z" fill="#4b0f6e"/>
<text x="283.8" y="607" font-size="8" text-anchor="start" font-weight="normal" fill="#2a2a2a" textLength="19.8" lengthAdjust="spacingAndGlyphs" stroke="#2a2a2a" stroke-width="0.12">Pt. 11</text>
<path d="M334.6 600.99L335.48 603.29L337.94 603.42L336.02 604.96L336.66 607.34L334.6 606L332.54 607.34L333.18 604.96L331.26 603.42L333.72 603.29Z" fill="#ff8a00"/>
<text x="347.7" y="607.2" font-size="8" text-anchor="start" font-weight="normal" fill="#2a2a2a" textLength="19.8" lengthAdjust="spacingAndGlyphs" stroke="#2a2a2a" stroke-width="0.12">Pt. 12</text>
<circle cx="398.4" cy="604.4" r="3.53" fill="#0b6a4c"/>
<text x="411.2" y="607.1" font-size="8" text-anchor="start" font-weight="normal" fill="#2a2a2a" textLength="19.8" lengthAdjust="spacingAndGlyphs" stroke="#2a2a2a" stroke-width="0.12">Pt. 13</text>
<path d="M463 600.77L466.9 607.37L459.1 607.37Z" fill="#ff8c00"/>
<text x="476.5" y="607.1" font-size="8" text-anchor="start" font-weight="normal" fill="#2a2a2a" textLength="19.8" lengthAdjust="spacingAndGlyphs" stroke="#2a2a2a" stroke-width="0.12">Pt. 14</text>
<circle cx="90.3" cy="621.5" r="1.3" fill="#a59ce6"/><path d="M86.9 621.5L93.7 621.5M87.9 619.1L92.7 623.9M90.3 618.1L90.3 624.9M92.7 619.1L87.9 623.9" stroke="#a59ce6" stroke-width="0.8" fill="none"/>
<text x="103.5" y="624.2" font-size="8" text-anchor="start" font-weight="normal" fill="#2a2a2a" textLength="19.8" lengthAdjust="spacingAndGlyphs" stroke="#2a2a2a" stroke-width="0.12">Pt. 15</text>
<circle cx="150" cy="621.5" r="3.53" fill="#3b4a62"/>
<text x="163.2" y="624.2" font-size="8" text-anchor="start" font-weight="normal" fill="#2a2a2a" textLength="19.8" lengthAdjust="spacingAndGlyphs" stroke="#2a2a2a" stroke-width="0.12">Pt. 22</text>
<rect x="0" y="0" width="520" height="1.1" fill="#000"/>
<rect x="0" y="0" width="1.05" height="633" fill="#000"/>
<rect x="518.55" y="0" width="1.45" height="633" fill="#000"/>
<rect x="0" y="631.45" width="520" height="1.55" fill="#000"/>
</svg>
</body></html>
